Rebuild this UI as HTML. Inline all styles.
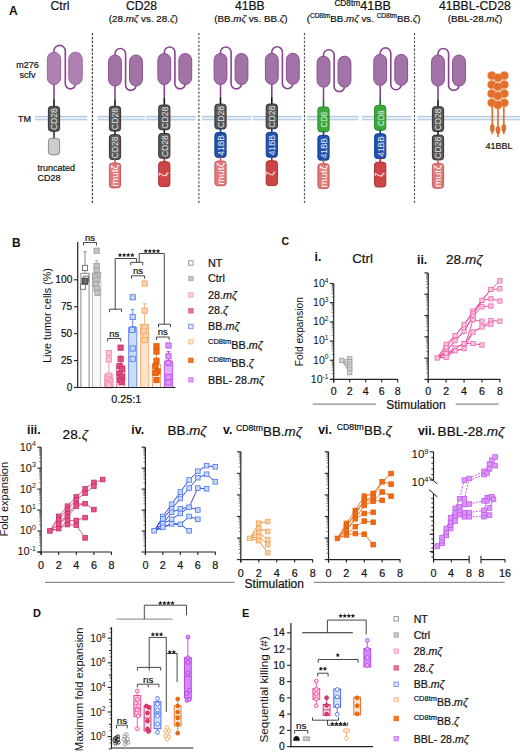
<!DOCTYPE html>
<html><head><meta charset="utf-8"><style>
html,body{margin:0;padding:0;background:#fff;width:520px;height:753px;overflow:hidden}
svg{display:block}
text{font-family:"Liberation Sans",sans-serif}
</style></head><body>
<svg width="520" height="753" viewBox="0 0 520 753" font-family="Liberation Sans, sans-serif">
<rect width="520" height="753" fill="#fff"/>
<rect x="35.00" y="116.40" width="52.20" height="3.40" rx="0" fill="#e2eefa" stroke="none" stroke-width="1" />
<line x1="35.00" y1="116.40" x2="87.20" y2="116.40" stroke="#adc1d6" stroke-width="1.0" />
<line x1="35.00" y1="119.80" x2="87.20" y2="119.80" stroke="#adc1d6" stroke-width="1.0" />
<rect x="97.30" y="116.40" width="47.60" height="3.40" rx="0" fill="#e2eefa" stroke="none" stroke-width="1" />
<line x1="97.30" y1="116.40" x2="144.90" y2="116.40" stroke="#adc1d6" stroke-width="1.0" />
<line x1="97.30" y1="119.80" x2="144.90" y2="119.80" stroke="#adc1d6" stroke-width="1.0" />
<rect x="146.10" y="116.40" width="49.70" height="3.40" rx="0" fill="#e2eefa" stroke="none" stroke-width="1" />
<line x1="146.10" y1="116.40" x2="195.80" y2="116.40" stroke="#adc1d6" stroke-width="1.0" />
<line x1="146.10" y1="119.80" x2="195.80" y2="119.80" stroke="#adc1d6" stroke-width="1.0" />
<rect x="201.90" y="116.40" width="49.00" height="3.40" rx="0" fill="#e2eefa" stroke="none" stroke-width="1" />
<line x1="201.90" y1="116.40" x2="250.90" y2="116.40" stroke="#adc1d6" stroke-width="1.0" />
<line x1="201.90" y1="119.80" x2="250.90" y2="119.80" stroke="#adc1d6" stroke-width="1.0" />
<rect x="252.60" y="116.40" width="49.00" height="3.40" rx="0" fill="#e2eefa" stroke="none" stroke-width="1" />
<line x1="252.60" y1="116.40" x2="301.60" y2="116.40" stroke="#adc1d6" stroke-width="1.0" />
<line x1="252.60" y1="119.80" x2="301.60" y2="119.80" stroke="#adc1d6" stroke-width="1.0" />
<rect x="306.80" y="116.40" width="51.50" height="3.40" rx="0" fill="#e2eefa" stroke="none" stroke-width="1" />
<line x1="306.80" y1="116.40" x2="358.30" y2="116.40" stroke="#adc1d6" stroke-width="1.0" />
<line x1="306.80" y1="119.80" x2="358.30" y2="119.80" stroke="#adc1d6" stroke-width="1.0" />
<rect x="362.00" y="116.40" width="49.40" height="3.40" rx="0" fill="#e2eefa" stroke="none" stroke-width="1" />
<line x1="362.00" y1="116.40" x2="411.40" y2="116.40" stroke="#adc1d6" stroke-width="1.0" />
<line x1="362.00" y1="119.80" x2="411.40" y2="119.80" stroke="#adc1d6" stroke-width="1.0" />
<rect x="417.40" y="116.40" width="102.60" height="3.40" rx="0" fill="#e2eefa" stroke="none" stroke-width="1" />
<line x1="417.40" y1="116.40" x2="520.00" y2="116.40" stroke="#adc1d6" stroke-width="1.0" />
<line x1="417.40" y1="119.80" x2="520.00" y2="119.80" stroke="#adc1d6" stroke-width="1.0" />
<line x1="92.40" y1="33.00" x2="92.40" y2="203.00" stroke="#3a3a3a" stroke-width="1.2" stroke-dasharray="2.3 1.6"/>
<line x1="198.90" y1="33.00" x2="198.90" y2="203.00" stroke="#555" stroke-width="1.2" stroke-dasharray="2.3 1.6"/>
<line x1="304.50" y1="33.00" x2="304.50" y2="203.00" stroke="#555" stroke-width="1.2" stroke-dasharray="2.3 1.6"/>
<line x1="414.50" y1="33.00" x2="414.50" y2="203.00" stroke="#555" stroke-width="1.2" stroke-dasharray="2.3 1.6"/>
<text x="9.00" y="14.60" font-size="12" text-anchor="start" font-weight="bold" fill="#111"  >A</text>
<text x="60.00" y="9.80" font-size="12.2" text-anchor="middle" font-weight="normal" fill="#111" stroke="#111" stroke-width="0.2" >Ctrl</text>
<text x="141.50" y="9.80" font-size="12.2" text-anchor="middle" font-weight="normal" fill="#111" stroke="#111" stroke-width="0.2" >CD28</text>
<text x="143.30" y="21.60" font-size="9.8" text-anchor="middle" font-weight="normal" fill="#111" stroke="#111" stroke-width="0.2" >(28.<tspan font-style="italic">mζ</tspan> vs. 28.<tspan font-style="italic">ζ</tspan>)</text>
<text x="249.80" y="9.80" font-size="12.2" text-anchor="middle" font-weight="normal" fill="#111" stroke="#111" stroke-width="0.2" >41BB</text>
<text x="250.90" y="21.60" font-size="9.8" text-anchor="middle" font-weight="normal" fill="#111" stroke="#111" stroke-width="0.2" >(BB.<tspan font-style="italic">mζ</tspan> vs. BB.<tspan font-style="italic">ζ</tspan>)</text>
<text x="362.70" y="9.80" font-size="12.2" text-anchor="middle" font-weight="normal" fill="#111" stroke="#111" stroke-width="0.2" ><tspan font-size="8.3" dy="-4.3">CD8tm</tspan><tspan dy="4.3" font-size="12.6">41BB</tspan></text>
<text x="363.60" y="21.60" font-size="9.8" text-anchor="middle" font-weight="normal" fill="#111" stroke="#111" stroke-width="0.2" >(<tspan font-size="6.5" dy="-3.5">CD8tm</tspan><tspan dy="3.5">BB.<tspan font-style="italic">mζ</tspan> vs. </tspan><tspan font-size="6.5" dy="-3.5">CD8tm</tspan><tspan dy="3.5">BB.<tspan font-style="italic">ζ</tspan>)</tspan></text>
<text x="474.80" y="9.80" font-size="12.2" text-anchor="middle" font-weight="normal" fill="#111" stroke="#111" stroke-width="0.2" >41BBL-CD28</text>
<text x="475.00" y="21.60" font-size="9.8" text-anchor="middle" font-weight="normal" fill="#111" stroke="#111" stroke-width="0.2" >(BBL-28.<tspan font-style="italic">mζ</tspan>)</text>
<text x="27.50" y="67.60" font-size="9" text-anchor="middle" font-weight="normal" fill="#111" stroke="#111" stroke-width="0.2" >m276</text>
<text x="27.50" y="77.60" font-size="9" text-anchor="middle" font-weight="normal" fill="#111" stroke="#111" stroke-width="0.2" >scfv</text>
<text x="18.00" y="122.00" font-size="9" text-anchor="start" font-weight="normal" fill="#111" stroke="#111" stroke-width="0.2" >TM</text>
<text x="37.50" y="171.40" font-size="9" text-anchor="start" font-weight="normal" fill="#111" stroke="#111" stroke-width="0.2" >truncated</text>
<text x="37.50" y="180.60" font-size="9" text-anchor="start" font-weight="normal" fill="#111" stroke="#111" stroke-width="0.2" >CD28</text>
<text x="485.50" y="148.60" font-size="9" text-anchor="start" font-weight="normal" fill="#111" stroke="#111" stroke-width="0.2" >41BBL</text>
<path d="M54.00,56.20 L54.00,51.00 A5.65,5.65 0 0 1 65.30,51.00 L65.30,83.80 A5.10,5.10 0 0 0 75.50,83.80 L75.50,80.60" fill="none" stroke="#8a4392" stroke-width="1.6" />
<rect x="47.30" y="52.20" width="13.40" height="32.40" rx="6.7" fill="#ae81b2" stroke="#9a64a0" stroke-width="1" />
<rect x="68.80" y="52.20" width="13.40" height="32.40" rx="6.7" fill="#ae81b2" stroke="#9a64a0" stroke-width="1" />
<line x1="54.00" y1="84.60" x2="54.00" y2="99.90" stroke="#8a4392" stroke-width="1.6" />
<line x1="54.00" y1="99.60" x2="54.00" y2="106.40" stroke="#111" stroke-width="1.6" />
<rect x="48.40" y="106.40" width="11.20" height="24.80" rx="2.8" fill="#585858" stroke="#333333" stroke-width="1" />
<text x="-11.00" y="0" font-size="9.4" fill="#e8e8e8" textLength="22.0" lengthAdjust="spacingAndGlyphs" transform="translate(57.35,119.10) rotate(-90)">CD28</text>
<line x1="54.00" y1="130.70" x2="54.00" y2="138.80" stroke="#333" stroke-width="1.6" />
<rect x="48.40" y="138.40" width="11.20" height="16.30" rx="2.8" fill="#cccccc" stroke="#8a8a8a" stroke-width="1" />
<path d="M52.70,154.60 L55.30,154.60 L54.00,156.20 Z" fill="#aaa" stroke="none" stroke-width="1" />
<path d="M115.00,59.00 L115.00,53.80 A5.30,5.30 0 0 1 125.60,53.80 L125.60,85.20 A5.20,5.20 0 0 0 136.00,85.20 L136.00,82.00" fill="none" stroke="#8a4392" stroke-width="1.6" />
<rect x="108.60" y="55.00" width="12.80" height="31.00" rx="6.4" fill="#a273a6" stroke="#8a4f90" stroke-width="1" />
<rect x="129.60" y="55.00" width="12.80" height="31.00" rx="6.4" fill="#a273a6" stroke="#8a4f90" stroke-width="1" />
<line x1="115.00" y1="86.00" x2="115.00" y2="99.80" stroke="#8a4392" stroke-width="1.6" />
<line x1="115.00" y1="99.50" x2="115.00" y2="106.30" stroke="#111" stroke-width="1.6" />
<rect x="109.40" y="106.30" width="11.20" height="24.80" rx="2.8" fill="#585858" stroke="#333333" stroke-width="1" />
<text x="-11.00" y="0" font-size="9.4" fill="#e8e8e8" textLength="22.0" lengthAdjust="spacingAndGlyphs" transform="translate(118.35,119.00) rotate(-90)">CD28</text>
<line x1="115.00" y1="130.60" x2="115.00" y2="135.20" stroke="#222" stroke-width="1.6" />
<rect x="109.40" y="134.70" width="11.20" height="24.80" rx="2.8" fill="#585858" stroke="#333333" stroke-width="1" />
<text x="-11.00" y="0" font-size="9.4" fill="#e8e8e8" textLength="22.0" lengthAdjust="spacingAndGlyphs" transform="translate(118.35,147.40) rotate(-90)">CD28</text>
<line x1="115.00" y1="159.00" x2="115.00" y2="163.60" stroke="#c45b5b" stroke-width="1.6" />
<rect x="109.40" y="163.10" width="11.20" height="24.80" rx="2.8" fill="#e07a7a" stroke="#c45b5b" stroke-width="1" />
<text x="-11.00" y="0" font-size="9.4" fill="#fff" textLength="22.0" lengthAdjust="spacingAndGlyphs" transform="translate(118.35,175.80) rotate(-90)">mutζ</text>
<path d="M164.30,57.50 L164.30,52.30 A5.30,5.30 0 0 1 174.90,52.30 L174.90,83.70 A5.20,5.20 0 0 0 185.30,83.70 L185.30,80.50" fill="none" stroke="#8a4392" stroke-width="1.6" />
<rect x="157.90" y="53.50" width="12.80" height="31.00" rx="6.4" fill="#a273a6" stroke="#8a4f90" stroke-width="1" />
<rect x="178.90" y="53.50" width="12.80" height="31.00" rx="6.4" fill="#a273a6" stroke="#8a4f90" stroke-width="1" />
<line x1="164.30" y1="84.50" x2="164.30" y2="98.50" stroke="#8a4392" stroke-width="1.6" />
<line x1="164.30" y1="98.20" x2="164.30" y2="105.00" stroke="#111" stroke-width="1.6" />
<rect x="158.70" y="105.00" width="11.20" height="24.80" rx="2.8" fill="#585858" stroke="#333333" stroke-width="1" />
<text x="-11.00" y="0" font-size="9.4" fill="#e8e8e8" textLength="22.0" lengthAdjust="spacingAndGlyphs" transform="translate(167.65,117.70) rotate(-90)">CD28</text>
<line x1="164.30" y1="129.30" x2="164.30" y2="133.90" stroke="#222" stroke-width="1.6" />
<rect x="158.70" y="133.40" width="11.20" height="24.80" rx="2.8" fill="#585858" stroke="#333333" stroke-width="1" />
<text x="-11.00" y="0" font-size="9.4" fill="#e8e8e8" textLength="22.0" lengthAdjust="spacingAndGlyphs" transform="translate(167.65,146.10) rotate(-90)">CD28</text>
<line x1="164.30" y1="157.70" x2="164.30" y2="162.30" stroke="#a92e2e" stroke-width="1.6" />
<rect x="158.70" y="161.80" width="11.20" height="24.80" rx="2.8" fill="#cf4444" stroke="#a92e2e" stroke-width="1" />
<text x="0" y="0" font-size="10" text-anchor="middle" fill="#fff" transform="translate(166.90,174.50) rotate(-90)">ζ</text>
<path d="M220.50,57.50 L220.50,52.30 A5.30,5.30 0 0 1 231.10,52.30 L231.10,83.70 A5.20,5.20 0 0 0 241.50,83.70 L241.50,80.50" fill="none" stroke="#8a4392" stroke-width="1.6" />
<rect x="214.10" y="53.50" width="12.80" height="31.00" rx="6.4" fill="#a273a6" stroke="#8a4f90" stroke-width="1" />
<rect x="235.10" y="53.50" width="12.80" height="31.00" rx="6.4" fill="#a273a6" stroke="#8a4f90" stroke-width="1" />
<line x1="220.50" y1="84.50" x2="220.50" y2="97.70" stroke="#8a4392" stroke-width="1.6" />
<line x1="220.50" y1="97.40" x2="220.50" y2="104.20" stroke="#111" stroke-width="1.6" />
<rect x="214.90" y="104.20" width="11.20" height="24.80" rx="2.8" fill="#585858" stroke="#333333" stroke-width="1" />
<text x="-11.00" y="0" font-size="9.4" fill="#e8e8e8" textLength="22.0" lengthAdjust="spacingAndGlyphs" transform="translate(223.85,116.90) rotate(-90)">CD28</text>
<line x1="220.50" y1="128.50" x2="220.50" y2="133.10" stroke="#123d8e" stroke-width="1.6" />
<rect x="214.90" y="132.60" width="11.20" height="24.80" rx="2.8" fill="#2152ad" stroke="#123d8e" stroke-width="1" />
<text x="-10.25" y="0" font-size="9.4" fill="#e8e8e8" textLength="20.5" lengthAdjust="spacingAndGlyphs" transform="translate(223.85,145.30) rotate(-90)">41BB</text>
<line x1="220.50" y1="156.90" x2="220.50" y2="161.50" stroke="#c45b5b" stroke-width="1.6" />
<rect x="214.90" y="161.00" width="11.20" height="24.80" rx="2.8" fill="#e07a7a" stroke="#c45b5b" stroke-width="1" />
<text x="-11.00" y="0" font-size="9.4" fill="#fff" textLength="22.0" lengthAdjust="spacingAndGlyphs" transform="translate(223.85,173.70) rotate(-90)">mutζ</text>
<path d="M271.80,57.30 L271.80,52.10 A5.30,5.30 0 0 1 282.40,52.10 L282.40,83.50 A5.20,5.20 0 0 0 292.80,83.50 L292.80,80.30" fill="none" stroke="#8a4392" stroke-width="1.6" />
<rect x="265.40" y="53.30" width="12.80" height="31.00" rx="6.4" fill="#a273a6" stroke="#8a4f90" stroke-width="1" />
<rect x="286.40" y="53.30" width="12.80" height="31.00" rx="6.4" fill="#a273a6" stroke="#8a4f90" stroke-width="1" />
<line x1="271.80" y1="84.30" x2="271.80" y2="97.50" stroke="#8a4392" stroke-width="1.6" />
<line x1="271.80" y1="97.20" x2="271.80" y2="104.00" stroke="#111" stroke-width="1.6" />
<rect x="266.20" y="104.00" width="11.20" height="24.80" rx="2.8" fill="#585858" stroke="#333333" stroke-width="1" />
<text x="-11.00" y="0" font-size="9.4" fill="#e8e8e8" textLength="22.0" lengthAdjust="spacingAndGlyphs" transform="translate(275.15,116.70) rotate(-90)">CD28</text>
<line x1="271.80" y1="128.30" x2="271.80" y2="132.90" stroke="#123d8e" stroke-width="1.6" />
<rect x="266.20" y="132.40" width="11.20" height="24.80" rx="2.8" fill="#2152ad" stroke="#123d8e" stroke-width="1" />
<text x="-10.25" y="0" font-size="9.4" fill="#e8e8e8" textLength="20.5" lengthAdjust="spacingAndGlyphs" transform="translate(275.15,145.10) rotate(-90)">41BB</text>
<line x1="271.80" y1="156.70" x2="271.80" y2="161.30" stroke="#a92e2e" stroke-width="1.6" />
<rect x="266.20" y="160.80" width="11.20" height="24.80" rx="2.8" fill="#cf4444" stroke="#a92e2e" stroke-width="1" />
<text x="0" y="0" font-size="10" text-anchor="middle" fill="#fff" transform="translate(274.40,173.50) rotate(-90)">ζ</text>
<path d="M323.50,60.20 L323.50,55.00 A5.30,5.30 0 0 1 334.10,55.00 L334.10,86.40 A5.20,5.20 0 0 0 344.50,86.40 L344.50,83.20" fill="none" stroke="#8a4392" stroke-width="1.6" />
<rect x="317.10" y="56.20" width="12.80" height="31.00" rx="6.4" fill="#a273a6" stroke="#8a4f90" stroke-width="1" />
<rect x="338.10" y="56.20" width="12.80" height="31.00" rx="6.4" fill="#a273a6" stroke="#8a4f90" stroke-width="1" />
<line x1="323.50" y1="87.20" x2="323.50" y2="100.50" stroke="#8a4392" stroke-width="1.6" />
<line x1="323.50" y1="100.20" x2="323.50" y2="107.00" stroke="#1d6b1d" stroke-width="1.6" />
<rect x="317.90" y="107.00" width="11.20" height="24.80" rx="2.8" fill="#3cab3c" stroke="#22872a" stroke-width="1" />
<text x="-7.80" y="0" font-size="9.4" fill="#e8e8e8" textLength="15.6" lengthAdjust="spacingAndGlyphs" transform="translate(326.85,119.70) rotate(-90)">CD8</text>
<line x1="323.50" y1="131.30" x2="323.50" y2="135.90" stroke="#123d8e" stroke-width="1.6" />
<rect x="317.90" y="135.40" width="11.20" height="24.80" rx="2.8" fill="#2152ad" stroke="#123d8e" stroke-width="1" />
<text x="-10.25" y="0" font-size="9.4" fill="#e8e8e8" textLength="20.5" lengthAdjust="spacingAndGlyphs" transform="translate(326.85,148.10) rotate(-90)">41BB</text>
<line x1="323.50" y1="159.70" x2="323.50" y2="164.30" stroke="#c45b5b" stroke-width="1.6" />
<rect x="317.90" y="163.80" width="11.20" height="24.80" rx="2.8" fill="#e07a7a" stroke="#c45b5b" stroke-width="1" />
<text x="-11.00" y="0" font-size="9.4" fill="#fff" textLength="22.0" lengthAdjust="spacingAndGlyphs" transform="translate(326.85,176.50) rotate(-90)">mutζ</text>
<path d="M380.20,58.40 L380.20,53.20 A5.30,5.30 0 0 1 390.80,53.20 L390.80,84.60 A5.20,5.20 0 0 0 401.20,84.60 L401.20,81.40" fill="none" stroke="#8a4392" stroke-width="1.6" />
<rect x="373.80" y="54.40" width="12.80" height="31.00" rx="6.4" fill="#a273a6" stroke="#8a4f90" stroke-width="1" />
<rect x="394.80" y="54.40" width="12.80" height="31.00" rx="6.4" fill="#a273a6" stroke="#8a4f90" stroke-width="1" />
<line x1="380.20" y1="85.40" x2="380.20" y2="98.90" stroke="#8a4392" stroke-width="1.6" />
<line x1="380.20" y1="98.60" x2="380.20" y2="105.40" stroke="#1d6b1d" stroke-width="1.6" />
<rect x="374.60" y="105.40" width="11.20" height="24.80" rx="2.8" fill="#3cab3c" stroke="#22872a" stroke-width="1" />
<text x="-7.80" y="0" font-size="9.4" fill="#e8e8e8" textLength="15.6" lengthAdjust="spacingAndGlyphs" transform="translate(383.55,118.10) rotate(-90)">CD8</text>
<line x1="380.20" y1="129.70" x2="380.20" y2="134.30" stroke="#123d8e" stroke-width="1.6" />
<rect x="374.60" y="133.80" width="11.20" height="24.80" rx="2.8" fill="#2152ad" stroke="#123d8e" stroke-width="1" />
<text x="-10.25" y="0" font-size="9.4" fill="#e8e8e8" textLength="20.5" lengthAdjust="spacingAndGlyphs" transform="translate(383.55,146.50) rotate(-90)">41BB</text>
<line x1="380.20" y1="158.10" x2="380.20" y2="162.70" stroke="#a92e2e" stroke-width="1.6" />
<rect x="374.60" y="162.20" width="11.20" height="24.80" rx="2.8" fill="#cf4444" stroke="#a92e2e" stroke-width="1" />
<text x="0" y="0" font-size="10" text-anchor="middle" fill="#fff" transform="translate(382.80,174.90) rotate(-90)">ζ</text>
<path d="M438.00,59.00 L438.00,53.80 A5.30,5.30 0 0 1 448.60,53.80 L448.60,85.20 A5.20,5.20 0 0 0 459.00,85.20 L459.00,82.00" fill="none" stroke="#8a4392" stroke-width="1.6" />
<rect x="431.60" y="55.00" width="12.80" height="31.00" rx="6.4" fill="#a273a6" stroke="#8a4f90" stroke-width="1" />
<rect x="452.60" y="55.00" width="12.80" height="31.00" rx="6.4" fill="#a273a6" stroke="#8a4f90" stroke-width="1" />
<line x1="438.00" y1="86.00" x2="438.00" y2="100.20" stroke="#8a4392" stroke-width="1.6" />
<line x1="438.00" y1="99.90" x2="438.00" y2="106.70" stroke="#111" stroke-width="1.6" />
<rect x="432.40" y="106.70" width="11.20" height="24.80" rx="2.8" fill="#585858" stroke="#333333" stroke-width="1" />
<text x="-11.00" y="0" font-size="9.4" fill="#e8e8e8" textLength="22.0" lengthAdjust="spacingAndGlyphs" transform="translate(441.35,119.40) rotate(-90)">CD28</text>
<line x1="438.00" y1="131.00" x2="438.00" y2="135.60" stroke="#222" stroke-width="1.6" />
<rect x="432.40" y="135.10" width="11.20" height="24.80" rx="2.8" fill="#585858" stroke="#333333" stroke-width="1" />
<text x="-11.00" y="0" font-size="9.4" fill="#e8e8e8" textLength="22.0" lengthAdjust="spacingAndGlyphs" transform="translate(441.35,147.80) rotate(-90)">CD28</text>
<line x1="438.00" y1="159.40" x2="438.00" y2="164.00" stroke="#c45b5b" stroke-width="1.6" />
<rect x="432.40" y="163.50" width="11.20" height="24.80" rx="2.8" fill="#e07a7a" stroke="#c45b5b" stroke-width="1" />
<text x="-11.00" y="0" font-size="9.4" fill="#fff" textLength="22.0" lengthAdjust="spacingAndGlyphs" transform="translate(441.35,176.20) rotate(-90)">mutζ</text>
<line x1="492.30" y1="103.00" x2="492.30" y2="134.10" stroke="#e2702c" stroke-width="1.7" />
<rect x="490.40" y="124.60" width="3.80" height="7.00" rx="1.9" fill="#e2702c" stroke="#c85a1a" stroke-width="0.6" />
<line x1="498.00" y1="103.00" x2="498.00" y2="137.00" stroke="#e2702c" stroke-width="1.7" />
<rect x="496.10" y="126.50" width="3.80" height="7.00" rx="1.9" fill="#e2702c" stroke="#c85a1a" stroke-width="0.6" />
<line x1="503.80" y1="103.00" x2="503.80" y2="134.10" stroke="#e2702c" stroke-width="1.7" />
<rect x="501.90" y="124.60" width="3.80" height="7.00" rx="1.9" fill="#e2702c" stroke="#c85a1a" stroke-width="0.6" />
<circle cx="491.70" cy="75.60" r="4.1" fill="#e2702c" stroke="#f09a66" stroke-width="0.5" />
<circle cx="491.70" cy="84.70" r="4.1" fill="#e2702c" stroke="#f09a66" stroke-width="0.5" />
<circle cx="491.70" cy="93.70" r="4.1" fill="#e2702c" stroke="#f09a66" stroke-width="0.5" />
<circle cx="491.70" cy="102.80" r="4.1" fill="#e2702c" stroke="#f09a66" stroke-width="0.5" />
<circle cx="504.30" cy="75.60" r="4.1" fill="#e2702c" stroke="#f09a66" stroke-width="0.5" />
<circle cx="504.30" cy="84.70" r="4.1" fill="#e2702c" stroke="#f09a66" stroke-width="0.5" />
<circle cx="504.30" cy="93.70" r="4.1" fill="#e2702c" stroke="#f09a66" stroke-width="0.5" />
<circle cx="504.30" cy="102.80" r="4.1" fill="#e2702c" stroke="#f09a66" stroke-width="0.5" />
<circle cx="497.90" cy="77.80" r="4.1" fill="#e2702c" stroke="#f09a66" stroke-width="0.5" />
<circle cx="497.90" cy="86.80" r="4.1" fill="#e2702c" stroke="#f09a66" stroke-width="0.5" />
<circle cx="497.90" cy="95.90" r="4.1" fill="#e2702c" stroke="#f09a66" stroke-width="0.5" />
<circle cx="497.90" cy="104.90" r="4.1" fill="#e2702c" stroke="#f09a66" stroke-width="0.5" />
<text x="12.00" y="246.50" font-size="12" text-anchor="start" font-weight="bold" fill="#111"  >B</text>
<rect x="80.90" y="273.34" width="8.20" height="114.16" rx="0" fill="#ffffff" stroke="#8a8a8a" stroke-width="1" />
<line x1="85.00" y1="273.34" x2="85.00" y2="251.80" stroke="#8a8a8a" stroke-width="1" />
<line x1="83.20" y1="251.80" x2="86.80" y2="251.80" stroke="#8a8a8a" stroke-width="1" />
<rect x="82.40" y="265.35" width="5.20" height="5.20" rx="0" fill="#ffffff" stroke="#6a6a6a" stroke-width="0.9" />
<rect x="80.40" y="284.09" width="5.20" height="5.20" rx="0" fill="#ffffff" stroke="#6a6a6a" stroke-width="0.9" />
<rect x="83.40" y="276.12" width="5.20" height="5.20" rx="0" fill="#ffffff" stroke="#6a6a6a" stroke-width="0.9" />
<rect x="81.90" y="278.28" width="5.20" height="5.20" rx="0" fill="#ffffff" stroke="#6a6a6a" stroke-width="0.9" />
<rect x="82.40" y="279.35" width="5.20" height="5.20" rx="0" fill="#ffffff" stroke="#6a6a6a" stroke-width="0.9" />
<rect x="92.50" y="273.34" width="8.20" height="114.16" rx="0" fill="#f7f7f7" stroke="#bdbdbd" stroke-width="1" />
<line x1="96.60" y1="273.34" x2="96.60" y2="260.41" stroke="#bdbdbd" stroke-width="1" />
<line x1="94.80" y1="260.41" x2="98.40" y2="260.41" stroke="#bdbdbd" stroke-width="1" />
<rect x="94.00" y="248.12" width="5.20" height="5.20" rx="0" fill="#c6c6c6" stroke="#9a9a9a" stroke-width="0.9" />
<rect x="94.00" y="263.20" width="5.20" height="5.20" rx="0" fill="#c6c6c6" stroke="#9a9a9a" stroke-width="0.9" />
<rect x="94.00" y="267.83" width="5.20" height="5.20" rx="0" fill="#c6c6c6" stroke="#9a9a9a" stroke-width="0.9" />
<rect x="95.00" y="272.35" width="5.20" height="5.20" rx="0" fill="#c6c6c6" stroke="#9a9a9a" stroke-width="0.9" />
<rect x="92.50" y="273.97" width="5.20" height="5.20" rx="0" fill="#c6c6c6" stroke="#9a9a9a" stroke-width="0.9" />
<rect x="94.00" y="277.74" width="5.20" height="5.20" rx="0" fill="#c6c6c6" stroke="#9a9a9a" stroke-width="0.9" />
<rect x="93.00" y="281.51" width="5.20" height="5.20" rx="0" fill="#c6c6c6" stroke="#9a9a9a" stroke-width="0.9" />
<rect x="94.00" y="285.82" width="5.20" height="5.20" rx="0" fill="#c6c6c6" stroke="#9a9a9a" stroke-width="0.9" />
<rect x="95.00" y="290.12" width="5.20" height="5.20" rx="0" fill="#c6c6c6" stroke="#9a9a9a" stroke-width="0.9" />
<rect x="104.70" y="374.25" width="8.20" height="13.25" rx="0" fill="#fde4ec" stroke="#f49ab9" stroke-width="1" />
<line x1="108.80" y1="374.25" x2="108.80" y2="359.50" stroke="#f49ab9" stroke-width="1" />
<line x1="107.00" y1="359.50" x2="110.60" y2="359.50" stroke="#f49ab9" stroke-width="1" />
<rect x="106.20" y="350.44" width="5.20" height="5.20" rx="0" fill="#fac6d8" stroke="#f48ab0" stroke-width="0.9" />
<rect x="106.20" y="356.90" width="5.20" height="5.20" rx="0" fill="#fac6d8" stroke="#f48ab0" stroke-width="0.9" />
<rect x="106.20" y="373.05" width="5.20" height="5.20" rx="0" fill="#fac6d8" stroke="#f48ab0" stroke-width="0.9" />
<rect x="105.20" y="376.28" width="5.20" height="5.20" rx="0" fill="#fac6d8" stroke="#f48ab0" stroke-width="0.9" />
<rect x="107.20" y="378.44" width="5.20" height="5.20" rx="0" fill="#fac6d8" stroke="#f48ab0" stroke-width="0.9" />
<rect x="104.70" y="380.59" width="5.20" height="5.20" rx="0" fill="#fac6d8" stroke="#f48ab0" stroke-width="0.9" />
<rect x="107.70" y="381.67" width="5.20" height="5.20" rx="0" fill="#fac6d8" stroke="#f48ab0" stroke-width="0.9" />
<rect x="106.20" y="382.75" width="5.20" height="5.20" rx="0" fill="#fac6d8" stroke="#f48ab0" stroke-width="0.9" />
<rect x="116.50" y="365.53" width="8.20" height="21.97" rx="0" fill="#fbe3ea" stroke="#ec86a9" stroke-width="1" />
<line x1="120.60" y1="365.53" x2="120.60" y2="355.19" stroke="#ec86a9" stroke-width="1" />
<line x1="118.80" y1="355.19" x2="122.40" y2="355.19" stroke="#ec86a9" stroke-width="1" />
<rect x="118.00" y="345.05" width="5.20" height="5.20" rx="0" fill="#e04a80" stroke="#c8326a" stroke-width="0.9" />
<rect x="118.00" y="356.47" width="5.20" height="5.20" rx="0" fill="#e04a80" stroke="#c8326a" stroke-width="0.9" />
<rect x="117.00" y="363.36" width="5.20" height="5.20" rx="0" fill="#e04a80" stroke="#c8326a" stroke-width="0.9" />
<rect x="119.50" y="366.59" width="5.20" height="5.20" rx="0" fill="#e04a80" stroke="#c8326a" stroke-width="0.9" />
<rect x="117.00" y="370.90" width="5.20" height="5.20" rx="0" fill="#e04a80" stroke="#c8326a" stroke-width="0.9" />
<rect x="119.50" y="374.13" width="5.20" height="5.20" rx="0" fill="#e04a80" stroke="#c8326a" stroke-width="0.9" />
<rect x="117.50" y="377.36" width="5.20" height="5.20" rx="0" fill="#e04a80" stroke="#c8326a" stroke-width="0.9" />
<rect x="119.00" y="379.51" width="5.20" height="5.20" rx="0" fill="#e04a80" stroke="#c8326a" stroke-width="0.9" />
<rect x="128.60" y="327.73" width="8.20" height="59.77" rx="0" fill="#cadcf8" stroke="#6a8ef0" stroke-width="1" />
<line x1="132.70" y1="327.73" x2="132.70" y2="309.31" stroke="#6a8ef0" stroke-width="1" />
<line x1="130.90" y1="309.31" x2="134.50" y2="309.31" stroke="#6a8ef0" stroke-width="1" />
<rect x="130.10" y="294.65" width="5.20" height="5.20" rx="0" fill="#c5d7fb" stroke="#5b80f0" stroke-width="0.9" />
<rect x="130.10" y="314.36" width="5.20" height="5.20" rx="0" fill="#c5d7fb" stroke="#5b80f0" stroke-width="0.9" />
<rect x="130.10" y="326.74" width="5.20" height="5.20" rx="0" fill="#c5d7fb" stroke="#5b80f0" stroke-width="0.9" />
<rect x="129.60" y="327.28" width="5.20" height="5.20" rx="0" fill="#c5d7fb" stroke="#5b80f0" stroke-width="0.9" />
<rect x="130.10" y="345.91" width="5.20" height="5.20" rx="0" fill="#c5d7fb" stroke="#5b80f0" stroke-width="0.9" />
<rect x="130.10" y="356.25" width="5.20" height="5.20" rx="0" fill="#c5d7fb" stroke="#5b80f0" stroke-width="0.9" />
<rect x="140.50" y="324.60" width="8.20" height="62.90" rx="0" fill="#fee4cc" stroke="#f9b27c" stroke-width="1" />
<line x1="144.60" y1="324.60" x2="144.60" y2="303.82" stroke="#f9b27c" stroke-width="1" />
<line x1="142.80" y1="303.82" x2="146.40" y2="303.82" stroke="#f9b27c" stroke-width="1" />
<rect x="142.00" y="280.86" width="5.20" height="5.20" rx="0" fill="#fcd6b2" stroke="#f5a262" stroke-width="0.9" />
<rect x="142.00" y="308.22" width="5.20" height="5.20" rx="0" fill="#fcd6b2" stroke="#f5a262" stroke-width="0.9" />
<rect x="142.00" y="324.59" width="5.20" height="5.20" rx="0" fill="#fcd6b2" stroke="#f5a262" stroke-width="0.9" />
<rect x="141.00" y="328.90" width="5.20" height="5.20" rx="0" fill="#fcd6b2" stroke="#f5a262" stroke-width="0.9" />
<rect x="143.00" y="333.20" width="5.20" height="5.20" rx="0" fill="#fcd6b2" stroke="#f5a262" stroke-width="0.9" />
<rect x="142.00" y="337.51" width="5.20" height="5.20" rx="0" fill="#fcd6b2" stroke="#f5a262" stroke-width="0.9" />
<rect x="152.40" y="364.56" width="8.20" height="22.94" rx="0" fill="#fdf1e8" stroke="#e6a679" stroke-width="1" />
<line x1="156.50" y1="364.56" x2="156.50" y2="351.96" stroke="#e6a679" stroke-width="1" />
<line x1="154.70" y1="351.96" x2="158.30" y2="351.96" stroke="#e6a679" stroke-width="1" />
<rect x="153.90" y="343.65" width="5.20" height="5.20" rx="0" fill="#f26a12" stroke="#e05a08" stroke-width="0.9" />
<rect x="153.90" y="348.93" width="5.20" height="5.20" rx="0" fill="#f26a12" stroke="#e05a08" stroke-width="0.9" />
<rect x="153.90" y="358.19" width="5.20" height="5.20" rx="0" fill="#f26a12" stroke="#e05a08" stroke-width="0.9" />
<rect x="152.90" y="363.58" width="5.20" height="5.20" rx="0" fill="#f26a12" stroke="#e05a08" stroke-width="0.9" />
<rect x="154.90" y="368.85" width="5.20" height="5.20" rx="0" fill="#f26a12" stroke="#e05a08" stroke-width="0.9" />
<rect x="152.90" y="370.36" width="5.20" height="5.20" rx="0" fill="#f26a12" stroke="#e05a08" stroke-width="0.9" />
<rect x="153.90" y="377.36" width="5.20" height="5.20" rx="0" fill="#f26a12" stroke="#e05a08" stroke-width="0.9" />
<rect x="164.40" y="361.54" width="8.20" height="25.96" rx="0" fill="#e2adf8" stroke="#c35cf0" stroke-width="1" />
<line x1="168.50" y1="361.54" x2="168.50" y2="351.53" stroke="#c35cf0" stroke-width="1" />
<line x1="166.70" y1="351.53" x2="170.30" y2="351.53" stroke="#c35cf0" stroke-width="1" />
<rect x="165.90" y="342.90" width="5.20" height="5.20" rx="0" fill="#dc98f9" stroke="#bc52ee" stroke-width="0.9" />
<rect x="165.90" y="353.67" width="5.20" height="5.20" rx="0" fill="#dc98f9" stroke="#bc52ee" stroke-width="0.9" />
<rect x="165.90" y="360.45" width="5.20" height="5.20" rx="0" fill="#dc98f9" stroke="#bc52ee" stroke-width="0.9" />
<rect x="165.90" y="374.35" width="5.20" height="5.20" rx="0" fill="#dc98f9" stroke="#bc52ee" stroke-width="0.9" />
<rect x="165.90" y="379.73" width="5.20" height="5.20" rx="0" fill="#dc98f9" stroke="#bc52ee" stroke-width="0.9" />
<rect x="82.60" y="278.28" width="5.20" height="5.20" rx="0" fill="#6a6a6a" stroke="#444" stroke-width="0.9" />
<line x1="77.70" y1="241.90" x2="77.70" y2="388.10" stroke="#222" stroke-width="1.2" />
<line x1="77.10" y1="387.50" x2="175.40" y2="387.50" stroke="#222" stroke-width="1.2" />
<line x1="74.00" y1="387.50" x2="77.70" y2="387.50" stroke="#222" stroke-width="1.1" />
<text x="72.30" y="391.10" font-size="10.2" text-anchor="end" font-weight="normal" fill="#111" stroke="#111" stroke-width="0.2" >0</text>
<line x1="74.00" y1="360.57" x2="77.70" y2="360.57" stroke="#222" stroke-width="1.1" />
<text x="72.30" y="364.18" font-size="10.2" text-anchor="end" font-weight="normal" fill="#111" stroke="#111" stroke-width="0.2" >25</text>
<line x1="74.00" y1="333.65" x2="77.70" y2="333.65" stroke="#222" stroke-width="1.1" />
<text x="72.30" y="337.25" font-size="10.2" text-anchor="end" font-weight="normal" fill="#111" stroke="#111" stroke-width="0.2" >50</text>
<line x1="74.00" y1="306.73" x2="77.70" y2="306.73" stroke="#222" stroke-width="1.1" />
<text x="72.30" y="310.33" font-size="10.2" text-anchor="end" font-weight="normal" fill="#111" stroke="#111" stroke-width="0.2" >75</text>
<line x1="74.00" y1="279.80" x2="77.70" y2="279.80" stroke="#222" stroke-width="1.1" />
<text x="72.30" y="283.40" font-size="10.2" text-anchor="end" font-weight="normal" fill="#111" stroke="#111" stroke-width="0.2" >100</text>
<text x="0" y="0" font-size="10.8" text-anchor="middle" fill="#111" transform="translate(50.6,315.5) rotate(-90)">Live tumor cells (%)</text>
<text x="126.20" y="402.60" font-size="10.8" text-anchor="middle" font-weight="normal" fill="#111" stroke="#111" stroke-width="0.2" >0.25:1</text>
<path d="M83.50,245.50 V242.50 H96.50 V245.50" fill="none" stroke="#333" stroke-width="0.9" />
<text x="90.00" y="240.70" font-size="9.5" text-anchor="middle" font-weight="normal" fill="#111" stroke="#111" stroke-width="0.2" >ns</text>
<path d="M107.70,341.50 V338.50 H120.80 V341.50" fill="none" stroke="#333" stroke-width="0.9" />
<text x="114.20" y="336.60" font-size="9.5" text-anchor="middle" font-weight="normal" fill="#111" stroke="#111" stroke-width="0.2" >ns</text>
<path d="M156.50,340.00 V337.00 H169.20 V340.00" fill="none" stroke="#333" stroke-width="0.9" />
<text x="162.80" y="335.10" font-size="9.5" text-anchor="middle" font-weight="normal" fill="#111" stroke="#111" stroke-width="0.2" >ns</text>
<path d="M131.50,278.80 V275.80 H144.60 V278.80" fill="none" stroke="#333" stroke-width="0.9" />
<text x="138.00" y="273.90" font-size="9.5" text-anchor="middle" font-weight="normal" fill="#111" stroke="#111" stroke-width="0.2" >ns</text>
<path d="M109.50,312.20 V309.20 H121.50 V312.20" fill="none" stroke="#333" stroke-width="0.9" />
<path d="M130.80,265.30 V262.30 H142.80 V265.30" fill="none" stroke="#333" stroke-width="0.9" />
<path d="M158.50,327.20 V324.20 H170.50 V327.20" fill="none" stroke="#333" stroke-width="0.9" />
<path d="M115.2,309.2 V258.5 H136.6 V262.3" fill="none" stroke="#333" stroke-width="0.9" />
<path d="M139.2,262.3 V253.5 H164.3 V324.2" fill="none" stroke="#333" stroke-width="0.9" />
<polygon points="120.05,252.80 120.71,254.24 122.28,254.42 121.12,255.50 121.43,257.05 120.05,256.28 118.67,257.05 118.98,255.50 117.82,254.42 119.39,254.24" fill="#222"/>
<polygon points="124.15,252.80 124.81,254.24 126.38,254.42 125.22,255.50 125.53,257.05 124.15,256.28 122.77,257.05 123.08,255.50 121.92,254.42 123.49,254.24" fill="#222"/>
<polygon points="128.25,252.80 128.91,254.24 130.48,254.42 129.32,255.50 129.63,257.05 128.25,256.28 126.87,257.05 127.18,255.50 126.02,254.42 127.59,254.24" fill="#222"/>
<polygon points="132.35,252.80 133.01,254.24 134.58,254.42 133.42,255.50 133.73,257.05 132.35,256.28 130.97,257.05 131.28,255.50 130.12,254.42 131.69,254.24" fill="#222"/>
<polygon points="145.75,248.70 146.41,250.14 147.98,250.32 146.82,251.40 147.13,252.95 145.75,252.18 144.37,252.95 144.68,251.40 143.52,250.32 145.09,250.14" fill="#222"/>
<polygon points="149.85,248.70 150.51,250.14 152.08,250.32 150.92,251.40 151.23,252.95 149.85,252.18 148.47,252.95 148.78,251.40 147.62,250.32 149.19,250.14" fill="#222"/>
<polygon points="153.95,248.70 154.61,250.14 156.18,250.32 155.02,251.40 155.33,252.95 153.95,252.18 152.57,252.95 152.88,251.40 151.72,250.32 153.29,250.14" fill="#222"/>
<polygon points="158.05,248.70 158.71,250.14 160.28,250.32 159.12,251.40 159.43,252.95 158.05,252.18 156.67,252.95 156.98,251.40 155.82,250.32 157.39,250.14" fill="#222"/>
<rect x="188.70" y="260.80" width="4.40" height="4.40" rx="0" fill="#ffffff" stroke="#8a8a8a" stroke-width="0.9" />
<text x="208.00" y="267.30" font-size="10.8" text-anchor="start" font-weight="normal" fill="#111" stroke="#111" stroke-width="0.2" >NT</text>
<rect x="188.70" y="276.30" width="4.40" height="4.40" rx="0" fill="#c8c8c8" stroke="#aaaaaa" stroke-width="0.9" />
<text x="208.00" y="282.20" font-size="10.8" text-anchor="start" font-weight="normal" fill="#111" stroke="#111" stroke-width="0.2" >Ctrl</text>
<rect x="188.70" y="292.80" width="4.40" height="4.40" rx="0" fill="#f9cde0" stroke="#f5a0c4" stroke-width="0.9" />
<text x="208.00" y="298.80" font-size="10.8" text-anchor="start" font-weight="normal" fill="#111" stroke="#111" stroke-width="0.2" >28.<tspan font-style="italic">mζ</tspan></text>
<rect x="188.70" y="308.60" width="4.40" height="4.40" rx="0" fill="#e6789c" stroke="#dc5c88" stroke-width="0.9" />
<text x="208.00" y="314.40" font-size="10.8" text-anchor="start" font-weight="normal" fill="#111" stroke="#111" stroke-width="0.2" >28.<tspan font-style="italic">ζ</tspan></text>
<rect x="188.70" y="324.30" width="4.40" height="4.40" rx="0" fill="#dfe8fd" stroke="#6f8ff2" stroke-width="0.9" />
<text x="208.00" y="330.40" font-size="10.8" text-anchor="start" font-weight="normal" fill="#111" stroke="#111" stroke-width="0.2" >BB.<tspan font-style="italic">mζ</tspan></text>
<rect x="188.70" y="339.60" width="4.40" height="4.40" rx="0" fill="#fde3cc" stroke="#f8c090" stroke-width="0.9" />
<text x="208.00" y="348.70" font-size="10.8" text-anchor="start" font-weight="normal" fill="#111" stroke="#111" stroke-width="0.2" ><tspan font-size="7.5" dy="-5">CD8tm</tspan><tspan dy="5">BB.<tspan font-style="italic">mζ</tspan></tspan></text>
<rect x="188.70" y="358.10" width="4.40" height="4.40" rx="0" fill="#f07a2a" stroke="#ec6a18" stroke-width="0.9" />
<text x="208.00" y="367.20" font-size="10.8" text-anchor="start" font-weight="normal" fill="#111" stroke="#111" stroke-width="0.2" ><tspan font-size="7.5" dy="-5">CD8tm</tspan><tspan dy="5">BB.<tspan font-style="italic">ζ</tspan></tspan></text>
<rect x="188.70" y="377.60" width="4.40" height="4.40" rx="0" fill="#dea0f8" stroke="#cf80f4" stroke-width="0.9" />
<text x="208.00" y="383.60" font-size="10.8" text-anchor="start" font-weight="normal" fill="#111" stroke="#111" stroke-width="0.2" >BBL- 28.<tspan font-style="italic">mζ</tspan></text>
<text x="281.50" y="245.40" font-size="10.5" text-anchor="start" font-weight="bold" fill="#111"  >C</text>
<text x="314.60" y="260.80" font-size="12.3" text-anchor="start" font-weight="bold" fill="#111"  >i.</text>
<text x="352.20" y="263.10" font-size="13.3" text-anchor="start" font-weight="normal" fill="#111" stroke="#111" stroke-width="0.2" >Ctrl</text>
<line x1="333.70" y1="283.50" x2="333.70" y2="382.40" stroke="#222" stroke-width="1.2" />
<line x1="329.90" y1="379.40" x2="333.70" y2="379.40" stroke="#222" stroke-width="1.1" />
<line x1="331.70" y1="373.63" x2="333.70" y2="373.63" stroke="#444" stroke-width="0.7" />
<line x1="331.70" y1="370.25" x2="333.70" y2="370.25" stroke="#444" stroke-width="0.7" />
<line x1="331.70" y1="367.85" x2="333.70" y2="367.85" stroke="#444" stroke-width="0.7" />
<line x1="331.70" y1="365.99" x2="333.70" y2="365.99" stroke="#444" stroke-width="0.7" />
<line x1="331.70" y1="364.48" x2="333.70" y2="364.48" stroke="#444" stroke-width="0.7" />
<line x1="331.70" y1="363.19" x2="333.70" y2="363.19" stroke="#444" stroke-width="0.7" />
<line x1="331.70" y1="362.08" x2="333.70" y2="362.08" stroke="#444" stroke-width="0.7" />
<line x1="331.70" y1="361.10" x2="333.70" y2="361.10" stroke="#444" stroke-width="0.7" />
<text x="328.50" y="382.80" font-size="10.6" text-anchor="end" fill="#111">10<tspan font-size="6.6" dy="-4.2">-1</tspan></text>
<line x1="329.90" y1="360.22" x2="333.70" y2="360.22" stroke="#222" stroke-width="1.1" />
<line x1="331.70" y1="354.45" x2="333.70" y2="354.45" stroke="#444" stroke-width="0.7" />
<line x1="331.70" y1="351.07" x2="333.70" y2="351.07" stroke="#444" stroke-width="0.7" />
<line x1="331.70" y1="348.67" x2="333.70" y2="348.67" stroke="#444" stroke-width="0.7" />
<line x1="331.70" y1="346.81" x2="333.70" y2="346.81" stroke="#444" stroke-width="0.7" />
<line x1="331.70" y1="345.30" x2="333.70" y2="345.30" stroke="#444" stroke-width="0.7" />
<line x1="331.70" y1="344.01" x2="333.70" y2="344.01" stroke="#444" stroke-width="0.7" />
<line x1="331.70" y1="342.90" x2="333.70" y2="342.90" stroke="#444" stroke-width="0.7" />
<line x1="331.70" y1="341.92" x2="333.70" y2="341.92" stroke="#444" stroke-width="0.7" />
<text x="328.50" y="363.62" font-size="10.6" text-anchor="end" fill="#111">10<tspan font-size="6.6" dy="-4.2">0</tspan></text>
<line x1="329.90" y1="341.04" x2="333.70" y2="341.04" stroke="#222" stroke-width="1.1" />
<line x1="331.70" y1="335.27" x2="333.70" y2="335.27" stroke="#444" stroke-width="0.7" />
<line x1="331.70" y1="331.89" x2="333.70" y2="331.89" stroke="#444" stroke-width="0.7" />
<line x1="331.70" y1="329.49" x2="333.70" y2="329.49" stroke="#444" stroke-width="0.7" />
<line x1="331.70" y1="327.63" x2="333.70" y2="327.63" stroke="#444" stroke-width="0.7" />
<line x1="331.70" y1="326.12" x2="333.70" y2="326.12" stroke="#444" stroke-width="0.7" />
<line x1="331.70" y1="324.83" x2="333.70" y2="324.83" stroke="#444" stroke-width="0.7" />
<line x1="331.70" y1="323.72" x2="333.70" y2="323.72" stroke="#444" stroke-width="0.7" />
<line x1="331.70" y1="322.74" x2="333.70" y2="322.74" stroke="#444" stroke-width="0.7" />
<text x="328.50" y="344.44" font-size="10.6" text-anchor="end" fill="#111">10<tspan font-size="6.6" dy="-4.2">1</tspan></text>
<line x1="329.90" y1="321.86" x2="333.70" y2="321.86" stroke="#222" stroke-width="1.1" />
<line x1="331.70" y1="316.09" x2="333.70" y2="316.09" stroke="#444" stroke-width="0.7" />
<line x1="331.70" y1="312.71" x2="333.70" y2="312.71" stroke="#444" stroke-width="0.7" />
<line x1="331.70" y1="310.31" x2="333.70" y2="310.31" stroke="#444" stroke-width="0.7" />
<line x1="331.70" y1="308.45" x2="333.70" y2="308.45" stroke="#444" stroke-width="0.7" />
<line x1="331.70" y1="306.94" x2="333.70" y2="306.94" stroke="#444" stroke-width="0.7" />
<line x1="331.70" y1="305.65" x2="333.70" y2="305.65" stroke="#444" stroke-width="0.7" />
<line x1="331.70" y1="304.54" x2="333.70" y2="304.54" stroke="#444" stroke-width="0.7" />
<line x1="331.70" y1="303.56" x2="333.70" y2="303.56" stroke="#444" stroke-width="0.7" />
<text x="328.50" y="325.26" font-size="10.6" text-anchor="end" fill="#111">10<tspan font-size="6.6" dy="-4.2">2</tspan></text>
<line x1="329.90" y1="302.68" x2="333.70" y2="302.68" stroke="#222" stroke-width="1.1" />
<line x1="331.70" y1="296.91" x2="333.70" y2="296.91" stroke="#444" stroke-width="0.7" />
<line x1="331.70" y1="293.53" x2="333.70" y2="293.53" stroke="#444" stroke-width="0.7" />
<line x1="331.70" y1="291.13" x2="333.70" y2="291.13" stroke="#444" stroke-width="0.7" />
<line x1="331.70" y1="289.27" x2="333.70" y2="289.27" stroke="#444" stroke-width="0.7" />
<line x1="331.70" y1="287.76" x2="333.70" y2="287.76" stroke="#444" stroke-width="0.7" />
<line x1="331.70" y1="286.47" x2="333.70" y2="286.47" stroke="#444" stroke-width="0.7" />
<line x1="331.70" y1="285.36" x2="333.70" y2="285.36" stroke="#444" stroke-width="0.7" />
<line x1="331.70" y1="284.38" x2="333.70" y2="284.38" stroke="#444" stroke-width="0.7" />
<text x="328.50" y="306.08" font-size="10.6" text-anchor="end" fill="#111">10<tspan font-size="6.6" dy="-4.2">3</tspan></text>
<line x1="329.90" y1="283.50" x2="333.70" y2="283.50" stroke="#222" stroke-width="1.1" />
<text x="328.50" y="286.90" font-size="10.6" text-anchor="end" fill="#111">10<tspan font-size="6.6" dy="-4.2">4</tspan></text>
<line x1="330.20" y1="379.40" x2="398.10" y2="379.40" stroke="#222" stroke-width="1.2" />
<line x1="333.70" y1="379.40" x2="333.70" y2="382.40" stroke="#222" stroke-width="1.1" />
<text x="333.70" y="394.60" font-size="10.6" text-anchor="middle" font-weight="normal" fill="#111" stroke="#111" stroke-width="0.2" >0</text>
<line x1="349.70" y1="379.40" x2="349.70" y2="382.40" stroke="#222" stroke-width="1.1" />
<text x="349.70" y="394.60" font-size="10.6" text-anchor="middle" font-weight="normal" fill="#111" stroke="#111" stroke-width="0.2" >2</text>
<line x1="365.70" y1="379.40" x2="365.70" y2="382.40" stroke="#222" stroke-width="1.1" />
<text x="365.70" y="394.60" font-size="10.6" text-anchor="middle" font-weight="normal" fill="#111" stroke="#111" stroke-width="0.2" >4</text>
<line x1="381.70" y1="379.40" x2="381.70" y2="382.40" stroke="#222" stroke-width="1.1" />
<text x="381.70" y="394.60" font-size="10.6" text-anchor="middle" font-weight="normal" fill="#111" stroke="#111" stroke-width="0.2" >6</text>
<line x1="397.70" y1="379.40" x2="397.70" y2="382.40" stroke="#222" stroke-width="1.1" />
<text x="397.70" y="394.60" font-size="10.6" text-anchor="middle" font-weight="normal" fill="#111" stroke="#111" stroke-width="0.2" >8</text>
<text x="0" y="0" font-size="10.2" text-anchor="middle" fill="#111" transform="translate(303.4,331.7) rotate(-90)">Fold expansion</text>
<path d="M341.70,360.40 L349.70,358.80" fill="none" stroke="#8a8a8a" stroke-width="0.7" />
<path d="M341.70,360.40 L349.70,361.60" fill="none" stroke="#8a8a8a" stroke-width="0.7" />
<path d="M341.70,360.40 L349.70,364.30" fill="none" stroke="#8a8a8a" stroke-width="0.7" />
<path d="M341.70,360.40 L349.70,367.20" fill="none" stroke="#8a8a8a" stroke-width="0.7" />
<path d="M341.70,360.40 L349.70,370.00" fill="none" stroke="#8a8a8a" stroke-width="0.7" />
<path d="M341.70,360.40 L349.70,372.60" fill="none" stroke="#8a8a8a" stroke-width="0.7" />
<rect x="339.50" y="358.20" width="4.40" height="4.40" rx="0" fill="#d2d2d2" stroke="#a0a0a0" stroke-width="0.8" />
<rect x="347.50" y="356.60" width="4.40" height="4.40" rx="0" fill="#d2d2d2" stroke="#a0a0a0" stroke-width="0.8" />
<rect x="347.50" y="359.40" width="4.40" height="4.40" rx="0" fill="#d2d2d2" stroke="#a0a0a0" stroke-width="0.8" />
<rect x="347.50" y="362.10" width="4.40" height="4.40" rx="0" fill="#d2d2d2" stroke="#a0a0a0" stroke-width="0.8" />
<rect x="347.50" y="365.00" width="4.40" height="4.40" rx="0" fill="#d2d2d2" stroke="#a0a0a0" stroke-width="0.8" />
<rect x="347.50" y="367.80" width="4.40" height="4.40" rx="0" fill="#d2d2d2" stroke="#a0a0a0" stroke-width="0.8" />
<rect x="347.50" y="370.40" width="4.40" height="4.40" rx="0" fill="#d2d2d2" stroke="#a0a0a0" stroke-width="0.8" />
<text x="417.00" y="263.80" font-size="12.3" text-anchor="start" font-weight="bold" fill="#111"  >ii.</text>
<text x="446.00" y="263.80" font-size="13.6" text-anchor="start" font-weight="normal" fill="#111" stroke="#111" stroke-width="0.2" >28.<tspan font-style="italic">mζ</tspan></text>
<line x1="428.20" y1="272.90" x2="428.20" y2="382.40" stroke="#222" stroke-width="1.2" />
<line x1="424.40" y1="379.40" x2="428.20" y2="379.40" stroke="#222" stroke-width="1.1" />
<line x1="426.20" y1="372.99" x2="428.20" y2="372.99" stroke="#444" stroke-width="0.7" />
<line x1="426.20" y1="369.24" x2="428.20" y2="369.24" stroke="#444" stroke-width="0.7" />
<line x1="426.20" y1="366.58" x2="428.20" y2="366.58" stroke="#444" stroke-width="0.7" />
<line x1="426.20" y1="364.51" x2="428.20" y2="364.51" stroke="#444" stroke-width="0.7" />
<line x1="426.20" y1="362.83" x2="428.20" y2="362.83" stroke="#444" stroke-width="0.7" />
<line x1="426.20" y1="361.40" x2="428.20" y2="361.40" stroke="#444" stroke-width="0.7" />
<line x1="426.20" y1="360.16" x2="428.20" y2="360.16" stroke="#444" stroke-width="0.7" />
<line x1="426.20" y1="359.07" x2="428.20" y2="359.07" stroke="#444" stroke-width="0.7" />
<line x1="424.40" y1="358.10" x2="428.20" y2="358.10" stroke="#222" stroke-width="1.1" />
<line x1="426.20" y1="351.69" x2="428.20" y2="351.69" stroke="#444" stroke-width="0.7" />
<line x1="426.20" y1="347.94" x2="428.20" y2="347.94" stroke="#444" stroke-width="0.7" />
<line x1="426.20" y1="345.28" x2="428.20" y2="345.28" stroke="#444" stroke-width="0.7" />
<line x1="426.20" y1="343.21" x2="428.20" y2="343.21" stroke="#444" stroke-width="0.7" />
<line x1="426.20" y1="341.53" x2="428.20" y2="341.53" stroke="#444" stroke-width="0.7" />
<line x1="426.20" y1="340.10" x2="428.20" y2="340.10" stroke="#444" stroke-width="0.7" />
<line x1="426.20" y1="338.86" x2="428.20" y2="338.86" stroke="#444" stroke-width="0.7" />
<line x1="426.20" y1="337.77" x2="428.20" y2="337.77" stroke="#444" stroke-width="0.7" />
<line x1="424.40" y1="336.80" x2="428.20" y2="336.80" stroke="#222" stroke-width="1.1" />
<line x1="426.20" y1="330.39" x2="428.20" y2="330.39" stroke="#444" stroke-width="0.7" />
<line x1="426.20" y1="326.64" x2="428.20" y2="326.64" stroke="#444" stroke-width="0.7" />
<line x1="426.20" y1="323.98" x2="428.20" y2="323.98" stroke="#444" stroke-width="0.7" />
<line x1="426.20" y1="321.91" x2="428.20" y2="321.91" stroke="#444" stroke-width="0.7" />
<line x1="426.20" y1="320.23" x2="428.20" y2="320.23" stroke="#444" stroke-width="0.7" />
<line x1="426.20" y1="318.80" x2="428.20" y2="318.80" stroke="#444" stroke-width="0.7" />
<line x1="426.20" y1="317.56" x2="428.20" y2="317.56" stroke="#444" stroke-width="0.7" />
<line x1="426.20" y1="316.47" x2="428.20" y2="316.47" stroke="#444" stroke-width="0.7" />
<line x1="424.40" y1="315.50" x2="428.20" y2="315.50" stroke="#222" stroke-width="1.1" />
<line x1="426.20" y1="309.09" x2="428.20" y2="309.09" stroke="#444" stroke-width="0.7" />
<line x1="426.20" y1="305.34" x2="428.20" y2="305.34" stroke="#444" stroke-width="0.7" />
<line x1="426.20" y1="302.68" x2="428.20" y2="302.68" stroke="#444" stroke-width="0.7" />
<line x1="426.20" y1="300.61" x2="428.20" y2="300.61" stroke="#444" stroke-width="0.7" />
<line x1="426.20" y1="298.93" x2="428.20" y2="298.93" stroke="#444" stroke-width="0.7" />
<line x1="426.20" y1="297.50" x2="428.20" y2="297.50" stroke="#444" stroke-width="0.7" />
<line x1="426.20" y1="296.26" x2="428.20" y2="296.26" stroke="#444" stroke-width="0.7" />
<line x1="426.20" y1="295.17" x2="428.20" y2="295.17" stroke="#444" stroke-width="0.7" />
<line x1="424.40" y1="294.20" x2="428.20" y2="294.20" stroke="#222" stroke-width="1.1" />
<line x1="426.20" y1="287.79" x2="428.20" y2="287.79" stroke="#444" stroke-width="0.7" />
<line x1="426.20" y1="284.04" x2="428.20" y2="284.04" stroke="#444" stroke-width="0.7" />
<line x1="426.20" y1="281.38" x2="428.20" y2="281.38" stroke="#444" stroke-width="0.7" />
<line x1="426.20" y1="279.31" x2="428.20" y2="279.31" stroke="#444" stroke-width="0.7" />
<line x1="426.20" y1="277.63" x2="428.20" y2="277.63" stroke="#444" stroke-width="0.7" />
<line x1="426.20" y1="276.20" x2="428.20" y2="276.20" stroke="#444" stroke-width="0.7" />
<line x1="426.20" y1="274.96" x2="428.20" y2="274.96" stroke="#444" stroke-width="0.7" />
<line x1="426.20" y1="273.87" x2="428.20" y2="273.87" stroke="#444" stroke-width="0.7" />
<line x1="424.40" y1="272.90" x2="428.20" y2="272.90" stroke="#222" stroke-width="1.1" />
<line x1="428.20" y1="379.40" x2="500.40" y2="379.40" stroke="#222" stroke-width="1.2" />
<line x1="428.20" y1="379.40" x2="428.20" y2="382.40" stroke="#222" stroke-width="1.1" />
<text x="428.20" y="394.60" font-size="10.6" text-anchor="middle" font-weight="normal" fill="#111" stroke="#111" stroke-width="0.2" >0</text>
<line x1="446.12" y1="379.40" x2="446.12" y2="382.40" stroke="#222" stroke-width="1.1" />
<text x="446.12" y="394.60" font-size="10.6" text-anchor="middle" font-weight="normal" fill="#111" stroke="#111" stroke-width="0.2" >2</text>
<line x1="464.04" y1="379.40" x2="464.04" y2="382.40" stroke="#222" stroke-width="1.1" />
<text x="464.04" y="394.60" font-size="10.6" text-anchor="middle" font-weight="normal" fill="#111" stroke="#111" stroke-width="0.2" >4</text>
<line x1="481.96" y1="379.40" x2="481.96" y2="382.40" stroke="#222" stroke-width="1.1" />
<text x="481.96" y="394.60" font-size="10.6" text-anchor="middle" font-weight="normal" fill="#111" stroke="#111" stroke-width="0.2" >6</text>
<line x1="499.88" y1="379.40" x2="499.88" y2="382.40" stroke="#222" stroke-width="1.1" />
<text x="499.88" y="394.60" font-size="10.6" text-anchor="middle" font-weight="normal" fill="#111" stroke="#111" stroke-width="0.2" >8</text>
<path d="M437.16,357.98 L446.12,344.28 L455.08,335.63 L464.04,324.81 L473.00,311.11 L481.96,300.29 L490.92,289.47 L499.88,280.82" fill="none" stroke="#ec3e98" stroke-width="0.9" />
<path d="M437.16,357.98 L446.12,347.89 L455.08,335.63 L464.04,324.81 L473.00,313.27 L481.96,300.29 L490.92,289.47 L499.88,288.75" fill="none" stroke="#ec3e98" stroke-width="0.9" />
<path d="M437.16,357.98 L446.12,351.49 L455.08,340.68 L464.04,331.30 L473.00,316.16 L481.96,300.29 L490.92,298.85 L499.88,301.01" fill="none" stroke="#ec3e98" stroke-width="0.9" />
<path d="M437.16,357.98 L446.12,351.49 L455.08,340.68 L464.04,331.30 L473.00,316.16 L481.96,306.78 L490.92,306.06" fill="none" stroke="#ec3e98" stroke-width="0.9" />
<path d="M437.16,357.98 L446.12,353.66 L455.08,347.89 L464.04,343.56 L473.00,332.02 L481.96,326.97 L490.92,320.48 L499.88,321.20" fill="none" stroke="#ec3e98" stroke-width="0.9" />
<path d="M437.16,357.98 L446.12,357.26 L455.08,350.77 L464.04,348.61 L473.00,332.02 L481.96,326.97 L490.92,324.09" fill="none" stroke="#ec3e98" stroke-width="0.9" />
<path d="M437.16,357.98 L446.12,357.26 L455.08,347.89 L464.04,343.56 L473.00,343.56 L481.96,345.00" fill="none" stroke="#ec3e98" stroke-width="0.9" />
<path d="M437.16,357.98 L446.12,353.66 L455.08,350.77 L464.04,348.61 L473.00,319.76 L481.96,321.20" fill="none" stroke="#ec3e98" stroke-width="0.9" />
<rect x="435.01" y="355.83" width="4.30" height="4.30" rx="0" fill="#fac6df" stroke="#f062ad" stroke-width="0.8" />
<rect x="443.97" y="342.13" width="4.30" height="4.30" rx="0" fill="#fac6df" stroke="#f062ad" stroke-width="0.8" />
<rect x="452.93" y="333.48" width="4.30" height="4.30" rx="0" fill="#fac6df" stroke="#f062ad" stroke-width="0.8" />
<rect x="461.89" y="322.66" width="4.30" height="4.30" rx="0" fill="#fac6df" stroke="#f062ad" stroke-width="0.8" />
<rect x="470.85" y="308.96" width="4.30" height="4.30" rx="0" fill="#fac6df" stroke="#f062ad" stroke-width="0.8" />
<rect x="479.81" y="298.14" width="4.30" height="4.30" rx="0" fill="#fac6df" stroke="#f062ad" stroke-width="0.8" />
<rect x="488.77" y="287.32" width="4.30" height="4.30" rx="0" fill="#fac6df" stroke="#f062ad" stroke-width="0.8" />
<rect x="497.73" y="278.67" width="4.30" height="4.30" rx="0" fill="#fac6df" stroke="#f062ad" stroke-width="0.8" />
<rect x="443.97" y="345.74" width="4.30" height="4.30" rx="0" fill="#fac6df" stroke="#f062ad" stroke-width="0.8" />
<rect x="470.85" y="311.12" width="4.30" height="4.30" rx="0" fill="#fac6df" stroke="#f062ad" stroke-width="0.8" />
<rect x="497.73" y="286.60" width="4.30" height="4.30" rx="0" fill="#fac6df" stroke="#f062ad" stroke-width="0.8" />
<rect x="443.97" y="349.34" width="4.30" height="4.30" rx="0" fill="#fac6df" stroke="#f062ad" stroke-width="0.8" />
<rect x="452.93" y="338.53" width="4.30" height="4.30" rx="0" fill="#fac6df" stroke="#f062ad" stroke-width="0.8" />
<rect x="461.89" y="329.15" width="4.30" height="4.30" rx="0" fill="#fac6df" stroke="#f062ad" stroke-width="0.8" />
<rect x="470.85" y="314.01" width="4.30" height="4.30" rx="0" fill="#fac6df" stroke="#f062ad" stroke-width="0.8" />
<rect x="488.77" y="296.70" width="4.30" height="4.30" rx="0" fill="#fac6df" stroke="#f062ad" stroke-width="0.8" />
<rect x="497.73" y="298.86" width="4.30" height="4.30" rx="0" fill="#fac6df" stroke="#f062ad" stroke-width="0.8" />
<rect x="479.81" y="304.63" width="4.30" height="4.30" rx="0" fill="#fac6df" stroke="#f062ad" stroke-width="0.8" />
<rect x="488.77" y="303.91" width="4.30" height="4.30" rx="0" fill="#fac6df" stroke="#f062ad" stroke-width="0.8" />
<rect x="443.97" y="351.51" width="4.30" height="4.30" rx="0" fill="#fac6df" stroke="#f062ad" stroke-width="0.8" />
<rect x="452.93" y="345.74" width="4.30" height="4.30" rx="0" fill="#fac6df" stroke="#f062ad" stroke-width="0.8" />
<rect x="461.89" y="341.41" width="4.30" height="4.30" rx="0" fill="#fac6df" stroke="#f062ad" stroke-width="0.8" />
<rect x="470.85" y="329.87" width="4.30" height="4.30" rx="0" fill="#fac6df" stroke="#f062ad" stroke-width="0.8" />
<rect x="479.81" y="324.82" width="4.30" height="4.30" rx="0" fill="#fac6df" stroke="#f062ad" stroke-width="0.8" />
<rect x="488.77" y="318.33" width="4.30" height="4.30" rx="0" fill="#fac6df" stroke="#f062ad" stroke-width="0.8" />
<rect x="497.73" y="319.05" width="4.30" height="4.30" rx="0" fill="#fac6df" stroke="#f062ad" stroke-width="0.8" />
<rect x="443.97" y="355.11" width="4.30" height="4.30" rx="0" fill="#fac6df" stroke="#f062ad" stroke-width="0.8" />
<rect x="452.93" y="348.62" width="4.30" height="4.30" rx="0" fill="#fac6df" stroke="#f062ad" stroke-width="0.8" />
<rect x="461.89" y="346.46" width="4.30" height="4.30" rx="0" fill="#fac6df" stroke="#f062ad" stroke-width="0.8" />
<rect x="488.77" y="321.94" width="4.30" height="4.30" rx="0" fill="#fac6df" stroke="#f062ad" stroke-width="0.8" />
<rect x="470.85" y="341.41" width="4.30" height="4.30" rx="0" fill="#fac6df" stroke="#f062ad" stroke-width="0.8" />
<rect x="479.81" y="342.85" width="4.30" height="4.30" rx="0" fill="#fac6df" stroke="#f062ad" stroke-width="0.8" />
<rect x="470.85" y="317.61" width="4.30" height="4.30" rx="0" fill="#fac6df" stroke="#f062ad" stroke-width="0.8" />
<rect x="479.81" y="319.05" width="4.30" height="4.30" rx="0" fill="#fac6df" stroke="#f062ad" stroke-width="0.8" />
<line x1="312.70" y1="404.10" x2="376.10" y2="404.10" stroke="#8c8c8c" stroke-width="1.3" />
<line x1="455.70" y1="404.10" x2="498.80" y2="404.10" stroke="#8c8c8c" stroke-width="1.3" />
<text x="415.90" y="408.90" font-size="12" text-anchor="middle" font-weight="normal" fill="#111" stroke="#111" stroke-width="0.2" >Stimulation</text>
<text x="0" y="0" font-size="11" text-anchor="middle" fill="#111" transform="translate(8.4,499.2) rotate(-90)">Fold expansion</text>
<text x="27.00" y="433.60" font-size="12.3" text-anchor="start" font-weight="bold" fill="#111"  >iii.</text>
<text x="62.60" y="438.50" font-size="13.7" text-anchor="start" font-weight="normal" fill="#111" stroke="#111" stroke-width="0.2" >28.<tspan font-style="italic">ζ</tspan></text>
<line x1="41.10" y1="447.20" x2="41.10" y2="555.00" stroke="#222" stroke-width="1.2" />
<line x1="37.30" y1="552.00" x2="41.10" y2="552.00" stroke="#222" stroke-width="1.1" />
<line x1="39.10" y1="545.69" x2="41.10" y2="545.69" stroke="#444" stroke-width="0.7" />
<line x1="39.10" y1="542.00" x2="41.10" y2="542.00" stroke="#444" stroke-width="0.7" />
<line x1="39.10" y1="539.38" x2="41.10" y2="539.38" stroke="#444" stroke-width="0.7" />
<line x1="39.10" y1="537.35" x2="41.10" y2="537.35" stroke="#444" stroke-width="0.7" />
<line x1="39.10" y1="535.69" x2="41.10" y2="535.69" stroke="#444" stroke-width="0.7" />
<line x1="39.10" y1="534.29" x2="41.10" y2="534.29" stroke="#444" stroke-width="0.7" />
<line x1="39.10" y1="533.07" x2="41.10" y2="533.07" stroke="#444" stroke-width="0.7" />
<line x1="39.10" y1="532.00" x2="41.10" y2="532.00" stroke="#444" stroke-width="0.7" />
<text x="35.90" y="555.40" font-size="11.0" text-anchor="end" fill="#111">10<tspan font-size="7.0" dy="-4.2">-1</tspan></text>
<line x1="37.30" y1="531.04" x2="41.10" y2="531.04" stroke="#222" stroke-width="1.1" />
<line x1="39.10" y1="524.73" x2="41.10" y2="524.73" stroke="#444" stroke-width="0.7" />
<line x1="39.10" y1="521.04" x2="41.10" y2="521.04" stroke="#444" stroke-width="0.7" />
<line x1="39.10" y1="518.42" x2="41.10" y2="518.42" stroke="#444" stroke-width="0.7" />
<line x1="39.10" y1="516.39" x2="41.10" y2="516.39" stroke="#444" stroke-width="0.7" />
<line x1="39.10" y1="514.73" x2="41.10" y2="514.73" stroke="#444" stroke-width="0.7" />
<line x1="39.10" y1="513.33" x2="41.10" y2="513.33" stroke="#444" stroke-width="0.7" />
<line x1="39.10" y1="512.11" x2="41.10" y2="512.11" stroke="#444" stroke-width="0.7" />
<line x1="39.10" y1="511.04" x2="41.10" y2="511.04" stroke="#444" stroke-width="0.7" />
<text x="35.90" y="534.44" font-size="11.0" text-anchor="end" fill="#111">10<tspan font-size="7.0" dy="-4.2">0</tspan></text>
<line x1="37.30" y1="510.08" x2="41.10" y2="510.08" stroke="#222" stroke-width="1.1" />
<line x1="39.10" y1="503.77" x2="41.10" y2="503.77" stroke="#444" stroke-width="0.7" />
<line x1="39.10" y1="500.08" x2="41.10" y2="500.08" stroke="#444" stroke-width="0.7" />
<line x1="39.10" y1="497.46" x2="41.10" y2="497.46" stroke="#444" stroke-width="0.7" />
<line x1="39.10" y1="495.43" x2="41.10" y2="495.43" stroke="#444" stroke-width="0.7" />
<line x1="39.10" y1="493.77" x2="41.10" y2="493.77" stroke="#444" stroke-width="0.7" />
<line x1="39.10" y1="492.37" x2="41.10" y2="492.37" stroke="#444" stroke-width="0.7" />
<line x1="39.10" y1="491.15" x2="41.10" y2="491.15" stroke="#444" stroke-width="0.7" />
<line x1="39.10" y1="490.08" x2="41.10" y2="490.08" stroke="#444" stroke-width="0.7" />
<text x="35.90" y="513.48" font-size="11.0" text-anchor="end" fill="#111">10<tspan font-size="7.0" dy="-4.2">1</tspan></text>
<line x1="37.30" y1="489.12" x2="41.10" y2="489.12" stroke="#222" stroke-width="1.1" />
<line x1="39.10" y1="482.81" x2="41.10" y2="482.81" stroke="#444" stroke-width="0.7" />
<line x1="39.10" y1="479.12" x2="41.10" y2="479.12" stroke="#444" stroke-width="0.7" />
<line x1="39.10" y1="476.50" x2="41.10" y2="476.50" stroke="#444" stroke-width="0.7" />
<line x1="39.10" y1="474.47" x2="41.10" y2="474.47" stroke="#444" stroke-width="0.7" />
<line x1="39.10" y1="472.81" x2="41.10" y2="472.81" stroke="#444" stroke-width="0.7" />
<line x1="39.10" y1="471.41" x2="41.10" y2="471.41" stroke="#444" stroke-width="0.7" />
<line x1="39.10" y1="470.19" x2="41.10" y2="470.19" stroke="#444" stroke-width="0.7" />
<line x1="39.10" y1="469.12" x2="41.10" y2="469.12" stroke="#444" stroke-width="0.7" />
<text x="35.90" y="492.52" font-size="11.0" text-anchor="end" fill="#111">10<tspan font-size="7.0" dy="-4.2">2</tspan></text>
<line x1="37.30" y1="468.16" x2="41.10" y2="468.16" stroke="#222" stroke-width="1.1" />
<line x1="39.10" y1="461.85" x2="41.10" y2="461.85" stroke="#444" stroke-width="0.7" />
<line x1="39.10" y1="458.16" x2="41.10" y2="458.16" stroke="#444" stroke-width="0.7" />
<line x1="39.10" y1="455.54" x2="41.10" y2="455.54" stroke="#444" stroke-width="0.7" />
<line x1="39.10" y1="453.51" x2="41.10" y2="453.51" stroke="#444" stroke-width="0.7" />
<line x1="39.10" y1="451.85" x2="41.10" y2="451.85" stroke="#444" stroke-width="0.7" />
<line x1="39.10" y1="450.45" x2="41.10" y2="450.45" stroke="#444" stroke-width="0.7" />
<line x1="39.10" y1="449.23" x2="41.10" y2="449.23" stroke="#444" stroke-width="0.7" />
<line x1="39.10" y1="448.16" x2="41.10" y2="448.16" stroke="#444" stroke-width="0.7" />
<text x="35.90" y="471.56" font-size="11.0" text-anchor="end" fill="#111">10<tspan font-size="7.0" dy="-4.2">3</tspan></text>
<line x1="37.30" y1="447.20" x2="41.10" y2="447.20" stroke="#222" stroke-width="1.1" />
<text x="35.90" y="450.60" font-size="11.0" text-anchor="end" fill="#111">10<tspan font-size="7.0" dy="-4.2">4</tspan></text>
<line x1="37.60" y1="552.00" x2="111.60" y2="552.00" stroke="#222" stroke-width="1.2" />
<line x1="41.10" y1="552.00" x2="41.10" y2="555.00" stroke="#222" stroke-width="1.1" />
<text x="41.10" y="568.90" font-size="10.8" text-anchor="middle" font-weight="normal" fill="#111" stroke="#111" stroke-width="0.2" >0</text>
<line x1="58.70" y1="552.00" x2="58.70" y2="555.00" stroke="#222" stroke-width="1.1" />
<text x="58.70" y="568.90" font-size="10.8" text-anchor="middle" font-weight="normal" fill="#111" stroke="#111" stroke-width="0.2" >2</text>
<line x1="76.30" y1="552.00" x2="76.30" y2="555.00" stroke="#222" stroke-width="1.1" />
<text x="76.30" y="568.90" font-size="10.8" text-anchor="middle" font-weight="normal" fill="#111" stroke="#111" stroke-width="0.2" >4</text>
<line x1="93.90" y1="552.00" x2="93.90" y2="555.00" stroke="#222" stroke-width="1.1" />
<text x="93.90" y="568.90" font-size="10.8" text-anchor="middle" font-weight="normal" fill="#111" stroke="#111" stroke-width="0.2" >6</text>
<line x1="111.50" y1="552.00" x2="111.50" y2="555.00" stroke="#222" stroke-width="1.1" />
<text x="111.50" y="568.90" font-size="10.8" text-anchor="middle" font-weight="normal" fill="#111" stroke="#111" stroke-width="0.2" >8</text>
<path d="M49.90,530.91 L58.70,516.32 L67.50,506.17 L76.30,496.65 L85.10,488.78 L93.90,482.44 L102.70,479.52" fill="none" stroke="#d43573" stroke-width="0.8" />
<path d="M49.90,530.91 L58.70,519.49 L67.50,509.34 L76.30,499.82 L85.10,493.10 L93.90,486.24" fill="none" stroke="#d43573" stroke-width="0.8" />
<path d="M49.90,530.91 L58.70,524.31 L67.50,513.78 L76.30,504.26 L85.10,503.63 L93.90,509.59" fill="none" stroke="#d43573" stroke-width="0.8" />
<path d="M49.90,530.91 L58.70,524.31 L67.50,516.70 L76.30,506.17 L85.10,503.63" fill="none" stroke="#d43573" stroke-width="0.8" />
<path d="M49.90,530.91 L58.70,528.63 L67.50,520.76 L76.30,520.51 L85.10,517.59" fill="none" stroke="#d43573" stroke-width="0.8" />
<path d="M49.90,530.91 L58.70,528.63 L67.50,524.57 L76.30,525.20 L85.10,537.89" fill="none" stroke="#d43573" stroke-width="0.8" />
<rect x="47.60" y="528.61" width="4.60" height="4.60" rx="0" fill="#e4528a" stroke="#c93068" stroke-width="0.8" />
<rect x="56.40" y="514.02" width="4.60" height="4.60" rx="0" fill="#e4528a" stroke="#c93068" stroke-width="0.8" />
<rect x="65.20" y="503.87" width="4.60" height="4.60" rx="0" fill="#e4528a" stroke="#c93068" stroke-width="0.8" />
<rect x="74.00" y="494.35" width="4.60" height="4.60" rx="0" fill="#e4528a" stroke="#c93068" stroke-width="0.8" />
<rect x="82.80" y="486.48" width="4.60" height="4.60" rx="0" fill="#e4528a" stroke="#c93068" stroke-width="0.8" />
<rect x="91.60" y="480.14" width="4.60" height="4.60" rx="0" fill="#e4528a" stroke="#c93068" stroke-width="0.8" />
<rect x="100.40" y="477.22" width="4.60" height="4.60" rx="0" fill="#e4528a" stroke="#c93068" stroke-width="0.8" />
<rect x="56.40" y="517.19" width="4.60" height="4.60" rx="0" fill="#e4528a" stroke="#c93068" stroke-width="0.8" />
<rect x="65.20" y="507.04" width="4.60" height="4.60" rx="0" fill="#e4528a" stroke="#c93068" stroke-width="0.8" />
<rect x="74.00" y="497.52" width="4.60" height="4.60" rx="0" fill="#e4528a" stroke="#c93068" stroke-width="0.8" />
<rect x="82.80" y="490.80" width="4.60" height="4.60" rx="0" fill="#e4528a" stroke="#c93068" stroke-width="0.8" />
<rect x="91.60" y="483.94" width="4.60" height="4.60" rx="0" fill="#e4528a" stroke="#c93068" stroke-width="0.8" />
<rect x="56.40" y="522.01" width="4.60" height="4.60" rx="0" fill="#e4528a" stroke="#c93068" stroke-width="0.8" />
<rect x="65.20" y="511.48" width="4.60" height="4.60" rx="0" fill="#e4528a" stroke="#c93068" stroke-width="0.8" />
<rect x="74.00" y="501.96" width="4.60" height="4.60" rx="0" fill="#e4528a" stroke="#c93068" stroke-width="0.8" />
<rect x="82.80" y="501.33" width="4.60" height="4.60" rx="0" fill="#e4528a" stroke="#c93068" stroke-width="0.8" />
<rect x="91.60" y="507.29" width="4.60" height="4.60" rx="0" fill="#e4528a" stroke="#c93068" stroke-width="0.8" />
<rect x="65.20" y="514.40" width="4.60" height="4.60" rx="0" fill="#e4528a" stroke="#c93068" stroke-width="0.8" />
<rect x="74.00" y="503.87" width="4.60" height="4.60" rx="0" fill="#e4528a" stroke="#c93068" stroke-width="0.8" />
<rect x="56.40" y="526.33" width="4.60" height="4.60" rx="0" fill="#e4528a" stroke="#c93068" stroke-width="0.8" />
<rect x="65.20" y="518.46" width="4.60" height="4.60" rx="0" fill="#e4528a" stroke="#c93068" stroke-width="0.8" />
<rect x="74.00" y="518.21" width="4.60" height="4.60" rx="0" fill="#e4528a" stroke="#c93068" stroke-width="0.8" />
<rect x="82.80" y="515.29" width="4.60" height="4.60" rx="0" fill="#e4528a" stroke="#c93068" stroke-width="0.8" />
<rect x="65.20" y="522.27" width="4.60" height="4.60" rx="0" fill="#e4528a" stroke="#c93068" stroke-width="0.8" />
<rect x="74.00" y="522.90" width="4.60" height="4.60" rx="0" fill="#e4528a" stroke="#c93068" stroke-width="0.8" />
<rect x="82.80" y="535.59" width="4.60" height="4.60" rx="0" fill="#e4528a" stroke="#c93068" stroke-width="0.8" />
<text x="131.30" y="433.80" font-size="12.3" text-anchor="start" font-weight="bold" fill="#111"  >iv.</text>
<text x="167.60" y="435.00" font-size="13.4" text-anchor="start" font-weight="normal" fill="#111" stroke="#111" stroke-width="0.2" >BB.<tspan font-style="italic">mζ</tspan></text>
<line x1="145.40" y1="447.20" x2="145.40" y2="555.00" stroke="#222" stroke-width="1.2" />
<line x1="141.60" y1="552.00" x2="145.40" y2="552.00" stroke="#222" stroke-width="1.1" />
<line x1="143.40" y1="545.69" x2="145.40" y2="545.69" stroke="#444" stroke-width="0.7" />
<line x1="143.40" y1="542.00" x2="145.40" y2="542.00" stroke="#444" stroke-width="0.7" />
<line x1="143.40" y1="539.38" x2="145.40" y2="539.38" stroke="#444" stroke-width="0.7" />
<line x1="143.40" y1="537.35" x2="145.40" y2="537.35" stroke="#444" stroke-width="0.7" />
<line x1="143.40" y1="535.69" x2="145.40" y2="535.69" stroke="#444" stroke-width="0.7" />
<line x1="143.40" y1="534.29" x2="145.40" y2="534.29" stroke="#444" stroke-width="0.7" />
<line x1="143.40" y1="533.07" x2="145.40" y2="533.07" stroke="#444" stroke-width="0.7" />
<line x1="143.40" y1="532.00" x2="145.40" y2="532.00" stroke="#444" stroke-width="0.7" />
<line x1="141.60" y1="531.04" x2="145.40" y2="531.04" stroke="#222" stroke-width="1.1" />
<line x1="143.40" y1="524.73" x2="145.40" y2="524.73" stroke="#444" stroke-width="0.7" />
<line x1="143.40" y1="521.04" x2="145.40" y2="521.04" stroke="#444" stroke-width="0.7" />
<line x1="143.40" y1="518.42" x2="145.40" y2="518.42" stroke="#444" stroke-width="0.7" />
<line x1="143.40" y1="516.39" x2="145.40" y2="516.39" stroke="#444" stroke-width="0.7" />
<line x1="143.40" y1="514.73" x2="145.40" y2="514.73" stroke="#444" stroke-width="0.7" />
<line x1="143.40" y1="513.33" x2="145.40" y2="513.33" stroke="#444" stroke-width="0.7" />
<line x1="143.40" y1="512.11" x2="145.40" y2="512.11" stroke="#444" stroke-width="0.7" />
<line x1="143.40" y1="511.04" x2="145.40" y2="511.04" stroke="#444" stroke-width="0.7" />
<line x1="141.60" y1="510.08" x2="145.40" y2="510.08" stroke="#222" stroke-width="1.1" />
<line x1="143.40" y1="503.77" x2="145.40" y2="503.77" stroke="#444" stroke-width="0.7" />
<line x1="143.40" y1="500.08" x2="145.40" y2="500.08" stroke="#444" stroke-width="0.7" />
<line x1="143.40" y1="497.46" x2="145.40" y2="497.46" stroke="#444" stroke-width="0.7" />
<line x1="143.40" y1="495.43" x2="145.40" y2="495.43" stroke="#444" stroke-width="0.7" />
<line x1="143.40" y1="493.77" x2="145.40" y2="493.77" stroke="#444" stroke-width="0.7" />
<line x1="143.40" y1="492.37" x2="145.40" y2="492.37" stroke="#444" stroke-width="0.7" />
<line x1="143.40" y1="491.15" x2="145.40" y2="491.15" stroke="#444" stroke-width="0.7" />
<line x1="143.40" y1="490.08" x2="145.40" y2="490.08" stroke="#444" stroke-width="0.7" />
<line x1="141.60" y1="489.12" x2="145.40" y2="489.12" stroke="#222" stroke-width="1.1" />
<line x1="143.40" y1="482.81" x2="145.40" y2="482.81" stroke="#444" stroke-width="0.7" />
<line x1="143.40" y1="479.12" x2="145.40" y2="479.12" stroke="#444" stroke-width="0.7" />
<line x1="143.40" y1="476.50" x2="145.40" y2="476.50" stroke="#444" stroke-width="0.7" />
<line x1="143.40" y1="474.47" x2="145.40" y2="474.47" stroke="#444" stroke-width="0.7" />
<line x1="143.40" y1="472.81" x2="145.40" y2="472.81" stroke="#444" stroke-width="0.7" />
<line x1="143.40" y1="471.41" x2="145.40" y2="471.41" stroke="#444" stroke-width="0.7" />
<line x1="143.40" y1="470.19" x2="145.40" y2="470.19" stroke="#444" stroke-width="0.7" />
<line x1="143.40" y1="469.12" x2="145.40" y2="469.12" stroke="#444" stroke-width="0.7" />
<line x1="141.60" y1="468.16" x2="145.40" y2="468.16" stroke="#222" stroke-width="1.1" />
<line x1="143.40" y1="461.85" x2="145.40" y2="461.85" stroke="#444" stroke-width="0.7" />
<line x1="143.40" y1="458.16" x2="145.40" y2="458.16" stroke="#444" stroke-width="0.7" />
<line x1="143.40" y1="455.54" x2="145.40" y2="455.54" stroke="#444" stroke-width="0.7" />
<line x1="143.40" y1="453.51" x2="145.40" y2="453.51" stroke="#444" stroke-width="0.7" />
<line x1="143.40" y1="451.85" x2="145.40" y2="451.85" stroke="#444" stroke-width="0.7" />
<line x1="143.40" y1="450.45" x2="145.40" y2="450.45" stroke="#444" stroke-width="0.7" />
<line x1="143.40" y1="449.23" x2="145.40" y2="449.23" stroke="#444" stroke-width="0.7" />
<line x1="143.40" y1="448.16" x2="145.40" y2="448.16" stroke="#444" stroke-width="0.7" />
<line x1="141.60" y1="447.20" x2="145.40" y2="447.20" stroke="#222" stroke-width="1.1" />
<line x1="145.40" y1="552.00" x2="215.60" y2="552.00" stroke="#222" stroke-width="1.2" />
<line x1="145.40" y1="552.00" x2="145.40" y2="555.00" stroke="#222" stroke-width="1.1" />
<text x="145.40" y="568.90" font-size="10.8" text-anchor="middle" font-weight="normal" fill="#111" stroke="#111" stroke-width="0.2" >0</text>
<line x1="162.88" y1="552.00" x2="162.88" y2="555.00" stroke="#222" stroke-width="1.1" />
<text x="162.88" y="568.90" font-size="10.8" text-anchor="middle" font-weight="normal" fill="#111" stroke="#111" stroke-width="0.2" >2</text>
<line x1="180.36" y1="552.00" x2="180.36" y2="555.00" stroke="#222" stroke-width="1.1" />
<text x="180.36" y="568.90" font-size="10.8" text-anchor="middle" font-weight="normal" fill="#111" stroke="#111" stroke-width="0.2" >4</text>
<line x1="197.84" y1="552.00" x2="197.84" y2="555.00" stroke="#222" stroke-width="1.1" />
<text x="197.84" y="568.90" font-size="10.8" text-anchor="middle" font-weight="normal" fill="#111" stroke="#111" stroke-width="0.2" >6</text>
<line x1="215.32" y1="552.00" x2="215.32" y2="555.00" stroke="#222" stroke-width="1.1" />
<text x="215.32" y="568.90" font-size="10.8" text-anchor="middle" font-weight="normal" fill="#111" stroke="#111" stroke-width="0.2" >8</text>
<path d="M154.14,530.78 L162.88,516.47 L171.62,504.24 L180.36,492.01 L189.10,480.00 L197.84,471.23 L206.58,465.70 L215.32,466.85" fill="none" stroke="#2233e0" stroke-width="0.9" />
<path d="M154.14,530.78 L162.88,518.78 L171.62,508.85 L180.36,498.47 L189.10,488.08 L197.84,477.70 L206.58,474.23 L215.32,481.85" fill="none" stroke="#2233e0" stroke-width="0.9" />
<path d="M154.14,530.78 L162.88,523.85 L171.62,512.31 L180.36,508.85 L189.10,507.24 L197.84,488.08 L206.58,488.77" fill="none" stroke="#2233e0" stroke-width="0.9" />
<path d="M154.14,530.78 L162.88,523.85 L171.62,519.24 L180.36,513.47 L189.10,507.24 L197.84,510.01" fill="none" stroke="#2233e0" stroke-width="0.9" />
<path d="M154.14,530.78 L162.88,527.32 L171.62,523.85 L180.36,524.32 L189.10,516.47 L197.84,519.24" fill="none" stroke="#2233e0" stroke-width="0.9" />
<path d="M154.14,530.78 L162.88,527.32 L171.62,523.85 L180.36,524.32 L189.10,530.78" fill="none" stroke="#2233e0" stroke-width="0.9" />
<rect x="151.84" y="528.48" width="4.60" height="4.60" rx="0" fill="#c6d8fb" stroke="#4d74f2" stroke-width="0.8" />
<rect x="160.58" y="514.17" width="4.60" height="4.60" rx="0" fill="#c6d8fb" stroke="#4d74f2" stroke-width="0.8" />
<rect x="169.32" y="501.94" width="4.60" height="4.60" rx="0" fill="#c6d8fb" stroke="#4d74f2" stroke-width="0.8" />
<rect x="178.06" y="489.71" width="4.60" height="4.60" rx="0" fill="#c6d8fb" stroke="#4d74f2" stroke-width="0.8" />
<rect x="186.80" y="477.70" width="4.60" height="4.60" rx="0" fill="#c6d8fb" stroke="#4d74f2" stroke-width="0.8" />
<rect x="195.54" y="468.93" width="4.60" height="4.60" rx="0" fill="#c6d8fb" stroke="#4d74f2" stroke-width="0.8" />
<rect x="204.28" y="463.40" width="4.60" height="4.60" rx="0" fill="#c6d8fb" stroke="#4d74f2" stroke-width="0.8" />
<rect x="213.02" y="464.55" width="4.60" height="4.60" rx="0" fill="#c6d8fb" stroke="#4d74f2" stroke-width="0.8" />
<rect x="160.58" y="516.48" width="4.60" height="4.60" rx="0" fill="#c6d8fb" stroke="#4d74f2" stroke-width="0.8" />
<rect x="169.32" y="506.55" width="4.60" height="4.60" rx="0" fill="#c6d8fb" stroke="#4d74f2" stroke-width="0.8" />
<rect x="178.06" y="496.17" width="4.60" height="4.60" rx="0" fill="#c6d8fb" stroke="#4d74f2" stroke-width="0.8" />
<rect x="186.80" y="485.78" width="4.60" height="4.60" rx="0" fill="#c6d8fb" stroke="#4d74f2" stroke-width="0.8" />
<rect x="195.54" y="475.40" width="4.60" height="4.60" rx="0" fill="#c6d8fb" stroke="#4d74f2" stroke-width="0.8" />
<rect x="204.28" y="471.93" width="4.60" height="4.60" rx="0" fill="#c6d8fb" stroke="#4d74f2" stroke-width="0.8" />
<rect x="213.02" y="479.55" width="4.60" height="4.60" rx="0" fill="#c6d8fb" stroke="#4d74f2" stroke-width="0.8" />
<rect x="160.58" y="521.55" width="4.60" height="4.60" rx="0" fill="#c6d8fb" stroke="#4d74f2" stroke-width="0.8" />
<rect x="169.32" y="510.01" width="4.60" height="4.60" rx="0" fill="#c6d8fb" stroke="#4d74f2" stroke-width="0.8" />
<rect x="178.06" y="506.55" width="4.60" height="4.60" rx="0" fill="#c6d8fb" stroke="#4d74f2" stroke-width="0.8" />
<rect x="186.80" y="504.94" width="4.60" height="4.60" rx="0" fill="#c6d8fb" stroke="#4d74f2" stroke-width="0.8" />
<rect x="195.54" y="485.78" width="4.60" height="4.60" rx="0" fill="#c6d8fb" stroke="#4d74f2" stroke-width="0.8" />
<rect x="204.28" y="486.47" width="4.60" height="4.60" rx="0" fill="#c6d8fb" stroke="#4d74f2" stroke-width="0.8" />
<rect x="169.32" y="516.94" width="4.60" height="4.60" rx="0" fill="#c6d8fb" stroke="#4d74f2" stroke-width="0.8" />
<rect x="178.06" y="511.17" width="4.60" height="4.60" rx="0" fill="#c6d8fb" stroke="#4d74f2" stroke-width="0.8" />
<rect x="195.54" y="507.71" width="4.60" height="4.60" rx="0" fill="#c6d8fb" stroke="#4d74f2" stroke-width="0.8" />
<rect x="160.58" y="525.02" width="4.60" height="4.60" rx="0" fill="#c6d8fb" stroke="#4d74f2" stroke-width="0.8" />
<rect x="169.32" y="521.55" width="4.60" height="4.60" rx="0" fill="#c6d8fb" stroke="#4d74f2" stroke-width="0.8" />
<rect x="178.06" y="522.02" width="4.60" height="4.60" rx="0" fill="#c6d8fb" stroke="#4d74f2" stroke-width="0.8" />
<rect x="186.80" y="514.17" width="4.60" height="4.60" rx="0" fill="#c6d8fb" stroke="#4d74f2" stroke-width="0.8" />
<rect x="195.54" y="516.94" width="4.60" height="4.60" rx="0" fill="#c6d8fb" stroke="#4d74f2" stroke-width="0.8" />
<rect x="186.80" y="528.48" width="4.60" height="4.60" rx="0" fill="#c6d8fb" stroke="#4d74f2" stroke-width="0.8" />
<text x="223.00" y="434.00" font-size="12.3" text-anchor="start" font-weight="bold" fill="#111"  >v.</text>
<text x="236.00" y="430.60" font-size="8.8" text-anchor="start" font-weight="normal" fill="#111" stroke="#111" stroke-width="0.2" textLength="27" lengthAdjust="spacingAndGlyphs">CD8tm</text>
<text x="263.00" y="435.60" font-size="13.4" text-anchor="start" font-weight="normal" fill="#111" stroke="#111" stroke-width="0.2" >BB.<tspan font-style="italic">mζ</tspan></text>
<line x1="240.80" y1="451.80" x2="240.80" y2="562.60" stroke="#222" stroke-width="1.2" />
<line x1="237.00" y1="559.60" x2="240.80" y2="559.60" stroke="#222" stroke-width="1.1" />
<line x1="238.80" y1="553.11" x2="240.80" y2="553.11" stroke="#444" stroke-width="0.7" />
<line x1="238.80" y1="549.31" x2="240.80" y2="549.31" stroke="#444" stroke-width="0.7" />
<line x1="238.80" y1="546.62" x2="240.80" y2="546.62" stroke="#444" stroke-width="0.7" />
<line x1="238.80" y1="544.53" x2="240.80" y2="544.53" stroke="#444" stroke-width="0.7" />
<line x1="238.80" y1="542.82" x2="240.80" y2="542.82" stroke="#444" stroke-width="0.7" />
<line x1="238.80" y1="541.38" x2="240.80" y2="541.38" stroke="#444" stroke-width="0.7" />
<line x1="238.80" y1="540.13" x2="240.80" y2="540.13" stroke="#444" stroke-width="0.7" />
<line x1="238.80" y1="539.03" x2="240.80" y2="539.03" stroke="#444" stroke-width="0.7" />
<line x1="237.00" y1="538.04" x2="240.80" y2="538.04" stroke="#222" stroke-width="1.1" />
<line x1="238.80" y1="531.55" x2="240.80" y2="531.55" stroke="#444" stroke-width="0.7" />
<line x1="238.80" y1="527.75" x2="240.80" y2="527.75" stroke="#444" stroke-width="0.7" />
<line x1="238.80" y1="525.06" x2="240.80" y2="525.06" stroke="#444" stroke-width="0.7" />
<line x1="238.80" y1="522.97" x2="240.80" y2="522.97" stroke="#444" stroke-width="0.7" />
<line x1="238.80" y1="521.26" x2="240.80" y2="521.26" stroke="#444" stroke-width="0.7" />
<line x1="238.80" y1="519.82" x2="240.80" y2="519.82" stroke="#444" stroke-width="0.7" />
<line x1="238.80" y1="518.57" x2="240.80" y2="518.57" stroke="#444" stroke-width="0.7" />
<line x1="238.80" y1="517.47" x2="240.80" y2="517.47" stroke="#444" stroke-width="0.7" />
<line x1="237.00" y1="516.48" x2="240.80" y2="516.48" stroke="#222" stroke-width="1.1" />
<line x1="238.80" y1="509.99" x2="240.80" y2="509.99" stroke="#444" stroke-width="0.7" />
<line x1="238.80" y1="506.19" x2="240.80" y2="506.19" stroke="#444" stroke-width="0.7" />
<line x1="238.80" y1="503.50" x2="240.80" y2="503.50" stroke="#444" stroke-width="0.7" />
<line x1="238.80" y1="501.41" x2="240.80" y2="501.41" stroke="#444" stroke-width="0.7" />
<line x1="238.80" y1="499.70" x2="240.80" y2="499.70" stroke="#444" stroke-width="0.7" />
<line x1="238.80" y1="498.26" x2="240.80" y2="498.26" stroke="#444" stroke-width="0.7" />
<line x1="238.80" y1="497.01" x2="240.80" y2="497.01" stroke="#444" stroke-width="0.7" />
<line x1="238.80" y1="495.91" x2="240.80" y2="495.91" stroke="#444" stroke-width="0.7" />
<line x1="237.00" y1="494.92" x2="240.80" y2="494.92" stroke="#222" stroke-width="1.1" />
<line x1="238.80" y1="488.43" x2="240.80" y2="488.43" stroke="#444" stroke-width="0.7" />
<line x1="238.80" y1="484.63" x2="240.80" y2="484.63" stroke="#444" stroke-width="0.7" />
<line x1="238.80" y1="481.94" x2="240.80" y2="481.94" stroke="#444" stroke-width="0.7" />
<line x1="238.80" y1="479.85" x2="240.80" y2="479.85" stroke="#444" stroke-width="0.7" />
<line x1="238.80" y1="478.14" x2="240.80" y2="478.14" stroke="#444" stroke-width="0.7" />
<line x1="238.80" y1="476.70" x2="240.80" y2="476.70" stroke="#444" stroke-width="0.7" />
<line x1="238.80" y1="475.45" x2="240.80" y2="475.45" stroke="#444" stroke-width="0.7" />
<line x1="238.80" y1="474.35" x2="240.80" y2="474.35" stroke="#444" stroke-width="0.7" />
<line x1="237.00" y1="473.36" x2="240.80" y2="473.36" stroke="#222" stroke-width="1.1" />
<line x1="238.80" y1="466.87" x2="240.80" y2="466.87" stroke="#444" stroke-width="0.7" />
<line x1="238.80" y1="463.07" x2="240.80" y2="463.07" stroke="#444" stroke-width="0.7" />
<line x1="238.80" y1="460.38" x2="240.80" y2="460.38" stroke="#444" stroke-width="0.7" />
<line x1="238.80" y1="458.29" x2="240.80" y2="458.29" stroke="#444" stroke-width="0.7" />
<line x1="238.80" y1="456.58" x2="240.80" y2="456.58" stroke="#444" stroke-width="0.7" />
<line x1="238.80" y1="455.14" x2="240.80" y2="455.14" stroke="#444" stroke-width="0.7" />
<line x1="238.80" y1="453.89" x2="240.80" y2="453.89" stroke="#444" stroke-width="0.7" />
<line x1="238.80" y1="452.79" x2="240.80" y2="452.79" stroke="#444" stroke-width="0.7" />
<line x1="237.00" y1="451.80" x2="240.80" y2="451.80" stroke="#222" stroke-width="1.1" />
<line x1="240.80" y1="559.60" x2="312.80" y2="559.60" stroke="#222" stroke-width="1.2" />
<line x1="240.80" y1="559.60" x2="240.80" y2="562.60" stroke="#222" stroke-width="1.1" />
<text x="240.80" y="576.70" font-size="10.8" text-anchor="middle" font-weight="normal" fill="#111" stroke="#111" stroke-width="0.2" >0</text>
<line x1="258.76" y1="559.60" x2="258.76" y2="562.60" stroke="#222" stroke-width="1.1" />
<text x="258.76" y="576.70" font-size="10.8" text-anchor="middle" font-weight="normal" fill="#111" stroke="#111" stroke-width="0.2" >2</text>
<line x1="276.72" y1="559.60" x2="276.72" y2="562.60" stroke="#222" stroke-width="1.1" />
<text x="276.72" y="576.70" font-size="10.8" text-anchor="middle" font-weight="normal" fill="#111" stroke="#111" stroke-width="0.2" >4</text>
<line x1="294.68" y1="559.60" x2="294.68" y2="562.60" stroke="#222" stroke-width="1.1" />
<text x="294.68" y="576.70" font-size="10.8" text-anchor="middle" font-weight="normal" fill="#111" stroke="#111" stroke-width="0.2" >6</text>
<line x1="312.64" y1="559.60" x2="312.64" y2="562.60" stroke="#222" stroke-width="1.1" />
<text x="312.64" y="576.70" font-size="10.8" text-anchor="middle" font-weight="normal" fill="#111" stroke="#111" stroke-width="0.2" >8</text>
<path d="M249.78,538.39 L258.76,523.16 L267.74,521.55" fill="none" stroke="#f08a22" stroke-width="0.9" />
<path d="M249.78,538.39 L258.76,528.47 L267.74,531.47" fill="none" stroke="#f08a22" stroke-width="0.9" />
<path d="M249.78,538.39 L258.76,532.62 L267.74,539.55" fill="none" stroke="#f08a22" stroke-width="0.9" />
<path d="M249.78,538.39 L258.76,536.55 L267.74,544.62" fill="none" stroke="#f08a22" stroke-width="0.9" />
<path d="M249.78,538.39 L258.76,540.70 L267.74,552.70" fill="none" stroke="#f08a22" stroke-width="0.9" />
<rect x="247.48" y="536.09" width="4.60" height="4.60" rx="0" fill="#fcd0a4" stroke="#f2a45c" stroke-width="0.8" />
<rect x="256.46" y="520.86" width="4.60" height="4.60" rx="0" fill="#fcd0a4" stroke="#f2a45c" stroke-width="0.8" />
<rect x="265.44" y="519.25" width="4.60" height="4.60" rx="0" fill="#fcd0a4" stroke="#f2a45c" stroke-width="0.8" />
<rect x="256.46" y="526.17" width="4.60" height="4.60" rx="0" fill="#fcd0a4" stroke="#f2a45c" stroke-width="0.8" />
<rect x="265.44" y="529.17" width="4.60" height="4.60" rx="0" fill="#fcd0a4" stroke="#f2a45c" stroke-width="0.8" />
<rect x="256.46" y="530.32" width="4.60" height="4.60" rx="0" fill="#fcd0a4" stroke="#f2a45c" stroke-width="0.8" />
<rect x="265.44" y="537.25" width="4.60" height="4.60" rx="0" fill="#fcd0a4" stroke="#f2a45c" stroke-width="0.8" />
<rect x="256.46" y="534.25" width="4.60" height="4.60" rx="0" fill="#fcd0a4" stroke="#f2a45c" stroke-width="0.8" />
<rect x="265.44" y="542.32" width="4.60" height="4.60" rx="0" fill="#fcd0a4" stroke="#f2a45c" stroke-width="0.8" />
<rect x="256.46" y="538.40" width="4.60" height="4.60" rx="0" fill="#fcd0a4" stroke="#f2a45c" stroke-width="0.8" />
<rect x="265.44" y="550.40" width="4.60" height="4.60" rx="0" fill="#fcd0a4" stroke="#f2a45c" stroke-width="0.8" />
<text x="318.20" y="433.80" font-size="12.3" text-anchor="start" font-weight="bold" fill="#111"  >vi.</text>
<text x="336.80" y="430.20" font-size="8.8" text-anchor="start" font-weight="normal" fill="#111" stroke="#111" stroke-width="0.2" textLength="27" lengthAdjust="spacingAndGlyphs">CD8tm</text>
<text x="364.00" y="435.20" font-size="13.4" text-anchor="start" font-weight="normal" fill="#111" stroke="#111" stroke-width="0.2" >BB.<tspan font-style="italic">ζ</tspan></text>
<line x1="328.50" y1="451.80" x2="328.50" y2="562.60" stroke="#222" stroke-width="1.2" />
<line x1="324.70" y1="559.60" x2="328.50" y2="559.60" stroke="#222" stroke-width="1.1" />
<line x1="326.50" y1="553.11" x2="328.50" y2="553.11" stroke="#444" stroke-width="0.7" />
<line x1="326.50" y1="549.31" x2="328.50" y2="549.31" stroke="#444" stroke-width="0.7" />
<line x1="326.50" y1="546.62" x2="328.50" y2="546.62" stroke="#444" stroke-width="0.7" />
<line x1="326.50" y1="544.53" x2="328.50" y2="544.53" stroke="#444" stroke-width="0.7" />
<line x1="326.50" y1="542.82" x2="328.50" y2="542.82" stroke="#444" stroke-width="0.7" />
<line x1="326.50" y1="541.38" x2="328.50" y2="541.38" stroke="#444" stroke-width="0.7" />
<line x1="326.50" y1="540.13" x2="328.50" y2="540.13" stroke="#444" stroke-width="0.7" />
<line x1="326.50" y1="539.03" x2="328.50" y2="539.03" stroke="#444" stroke-width="0.7" />
<line x1="324.70" y1="538.04" x2="328.50" y2="538.04" stroke="#222" stroke-width="1.1" />
<line x1="326.50" y1="531.55" x2="328.50" y2="531.55" stroke="#444" stroke-width="0.7" />
<line x1="326.50" y1="527.75" x2="328.50" y2="527.75" stroke="#444" stroke-width="0.7" />
<line x1="326.50" y1="525.06" x2="328.50" y2="525.06" stroke="#444" stroke-width="0.7" />
<line x1="326.50" y1="522.97" x2="328.50" y2="522.97" stroke="#444" stroke-width="0.7" />
<line x1="326.50" y1="521.26" x2="328.50" y2="521.26" stroke="#444" stroke-width="0.7" />
<line x1="326.50" y1="519.82" x2="328.50" y2="519.82" stroke="#444" stroke-width="0.7" />
<line x1="326.50" y1="518.57" x2="328.50" y2="518.57" stroke="#444" stroke-width="0.7" />
<line x1="326.50" y1="517.47" x2="328.50" y2="517.47" stroke="#444" stroke-width="0.7" />
<line x1="324.70" y1="516.48" x2="328.50" y2="516.48" stroke="#222" stroke-width="1.1" />
<line x1="326.50" y1="509.99" x2="328.50" y2="509.99" stroke="#444" stroke-width="0.7" />
<line x1="326.50" y1="506.19" x2="328.50" y2="506.19" stroke="#444" stroke-width="0.7" />
<line x1="326.50" y1="503.50" x2="328.50" y2="503.50" stroke="#444" stroke-width="0.7" />
<line x1="326.50" y1="501.41" x2="328.50" y2="501.41" stroke="#444" stroke-width="0.7" />
<line x1="326.50" y1="499.70" x2="328.50" y2="499.70" stroke="#444" stroke-width="0.7" />
<line x1="326.50" y1="498.26" x2="328.50" y2="498.26" stroke="#444" stroke-width="0.7" />
<line x1="326.50" y1="497.01" x2="328.50" y2="497.01" stroke="#444" stroke-width="0.7" />
<line x1="326.50" y1="495.91" x2="328.50" y2="495.91" stroke="#444" stroke-width="0.7" />
<line x1="324.70" y1="494.92" x2="328.50" y2="494.92" stroke="#222" stroke-width="1.1" />
<line x1="326.50" y1="488.43" x2="328.50" y2="488.43" stroke="#444" stroke-width="0.7" />
<line x1="326.50" y1="484.63" x2="328.50" y2="484.63" stroke="#444" stroke-width="0.7" />
<line x1="326.50" y1="481.94" x2="328.50" y2="481.94" stroke="#444" stroke-width="0.7" />
<line x1="326.50" y1="479.85" x2="328.50" y2="479.85" stroke="#444" stroke-width="0.7" />
<line x1="326.50" y1="478.14" x2="328.50" y2="478.14" stroke="#444" stroke-width="0.7" />
<line x1="326.50" y1="476.70" x2="328.50" y2="476.70" stroke="#444" stroke-width="0.7" />
<line x1="326.50" y1="475.45" x2="328.50" y2="475.45" stroke="#444" stroke-width="0.7" />
<line x1="326.50" y1="474.35" x2="328.50" y2="474.35" stroke="#444" stroke-width="0.7" />
<line x1="324.70" y1="473.36" x2="328.50" y2="473.36" stroke="#222" stroke-width="1.1" />
<line x1="326.50" y1="466.87" x2="328.50" y2="466.87" stroke="#444" stroke-width="0.7" />
<line x1="326.50" y1="463.07" x2="328.50" y2="463.07" stroke="#444" stroke-width="0.7" />
<line x1="326.50" y1="460.38" x2="328.50" y2="460.38" stroke="#444" stroke-width="0.7" />
<line x1="326.50" y1="458.29" x2="328.50" y2="458.29" stroke="#444" stroke-width="0.7" />
<line x1="326.50" y1="456.58" x2="328.50" y2="456.58" stroke="#444" stroke-width="0.7" />
<line x1="326.50" y1="455.14" x2="328.50" y2="455.14" stroke="#444" stroke-width="0.7" />
<line x1="326.50" y1="453.89" x2="328.50" y2="453.89" stroke="#444" stroke-width="0.7" />
<line x1="326.50" y1="452.79" x2="328.50" y2="452.79" stroke="#444" stroke-width="0.7" />
<line x1="324.70" y1="451.80" x2="328.50" y2="451.80" stroke="#222" stroke-width="1.1" />
<line x1="328.50" y1="559.60" x2="400.20" y2="559.60" stroke="#222" stroke-width="1.2" />
<line x1="328.50" y1="559.60" x2="328.50" y2="562.60" stroke="#222" stroke-width="1.1" />
<text x="328.50" y="576.70" font-size="10.8" text-anchor="middle" font-weight="normal" fill="#111" stroke="#111" stroke-width="0.2" >0</text>
<line x1="346.38" y1="559.60" x2="346.38" y2="562.60" stroke="#222" stroke-width="1.1" />
<text x="346.38" y="576.70" font-size="10.8" text-anchor="middle" font-weight="normal" fill="#111" stroke="#111" stroke-width="0.2" >2</text>
<line x1="364.26" y1="559.60" x2="364.26" y2="562.60" stroke="#222" stroke-width="1.1" />
<text x="364.26" y="576.70" font-size="10.8" text-anchor="middle" font-weight="normal" fill="#111" stroke="#111" stroke-width="0.2" >4</text>
<line x1="382.14" y1="559.60" x2="382.14" y2="562.60" stroke="#222" stroke-width="1.1" />
<text x="382.14" y="576.70" font-size="10.8" text-anchor="middle" font-weight="normal" fill="#111" stroke="#111" stroke-width="0.2" >6</text>
<line x1="400.02" y1="559.60" x2="400.02" y2="562.60" stroke="#222" stroke-width="1.1" />
<text x="400.02" y="576.70" font-size="10.8" text-anchor="middle" font-weight="normal" fill="#111" stroke="#111" stroke-width="0.2" >8</text>
<path d="M337.44,538.39 L346.38,523.39 L355.32,510.47 L364.26,496.16 L373.20,493.39 L382.14,481.85 L391.08,473.54" fill="none" stroke="#e8701e" stroke-width="0.9" />
<path d="M337.44,538.39 L346.38,526.16 L355.32,514.16 L364.26,500.31 L373.20,497.31 L382.14,481.85 L391.08,484.16" fill="none" stroke="#e8701e" stroke-width="0.9" />
<path d="M337.44,538.39 L346.38,526.16 L355.32,514.16 L364.26,500.31 L373.20,501.24 L382.14,492.01 L391.08,496.16" fill="none" stroke="#e8701e" stroke-width="0.9" />
<path d="M337.44,538.39 L346.38,530.32 L355.32,518.78 L364.26,505.39 L373.20,501.24 L382.14,500.31" fill="none" stroke="#e8701e" stroke-width="0.9" />
<path d="M337.44,538.39 L346.38,530.32 L355.32,518.78 L364.26,513.47 L373.20,512.31" fill="none" stroke="#e8701e" stroke-width="0.9" />
<path d="M337.44,538.39 L346.38,534.93 L355.32,526.62 L364.26,521.08 L373.20,522.24" fill="none" stroke="#e8701e" stroke-width="0.9" />
<path d="M337.44,538.39 L346.38,534.93 L355.32,533.55 L364.26,534.24 L373.20,544.62" fill="none" stroke="#e8701e" stroke-width="0.9" />
<rect x="335.14" y="536.09" width="4.60" height="4.60" rx="0" fill="#f06a14" stroke="#e25e0c" stroke-width="0.8" />
<rect x="344.08" y="521.09" width="4.60" height="4.60" rx="0" fill="#f06a14" stroke="#e25e0c" stroke-width="0.8" />
<rect x="353.02" y="508.17" width="4.60" height="4.60" rx="0" fill="#f06a14" stroke="#e25e0c" stroke-width="0.8" />
<rect x="361.96" y="493.86" width="4.60" height="4.60" rx="0" fill="#f06a14" stroke="#e25e0c" stroke-width="0.8" />
<rect x="370.90" y="491.09" width="4.60" height="4.60" rx="0" fill="#f06a14" stroke="#e25e0c" stroke-width="0.8" />
<rect x="379.84" y="479.55" width="4.60" height="4.60" rx="0" fill="#f06a14" stroke="#e25e0c" stroke-width="0.8" />
<rect x="388.78" y="471.24" width="4.60" height="4.60" rx="0" fill="#f06a14" stroke="#e25e0c" stroke-width="0.8" />
<rect x="344.08" y="523.86" width="4.60" height="4.60" rx="0" fill="#f06a14" stroke="#e25e0c" stroke-width="0.8" />
<rect x="353.02" y="511.86" width="4.60" height="4.60" rx="0" fill="#f06a14" stroke="#e25e0c" stroke-width="0.8" />
<rect x="361.96" y="498.01" width="4.60" height="4.60" rx="0" fill="#f06a14" stroke="#e25e0c" stroke-width="0.8" />
<rect x="370.90" y="495.01" width="4.60" height="4.60" rx="0" fill="#f06a14" stroke="#e25e0c" stroke-width="0.8" />
<rect x="388.78" y="481.86" width="4.60" height="4.60" rx="0" fill="#f06a14" stroke="#e25e0c" stroke-width="0.8" />
<rect x="370.90" y="498.94" width="4.60" height="4.60" rx="0" fill="#f06a14" stroke="#e25e0c" stroke-width="0.8" />
<rect x="379.84" y="489.71" width="4.60" height="4.60" rx="0" fill="#f06a14" stroke="#e25e0c" stroke-width="0.8" />
<rect x="388.78" y="493.86" width="4.60" height="4.60" rx="0" fill="#f06a14" stroke="#e25e0c" stroke-width="0.8" />
<rect x="344.08" y="528.02" width="4.60" height="4.60" rx="0" fill="#f06a14" stroke="#e25e0c" stroke-width="0.8" />
<rect x="353.02" y="516.48" width="4.60" height="4.60" rx="0" fill="#f06a14" stroke="#e25e0c" stroke-width="0.8" />
<rect x="361.96" y="503.09" width="4.60" height="4.60" rx="0" fill="#f06a14" stroke="#e25e0c" stroke-width="0.8" />
<rect x="379.84" y="498.01" width="4.60" height="4.60" rx="0" fill="#f06a14" stroke="#e25e0c" stroke-width="0.8" />
<rect x="361.96" y="511.17" width="4.60" height="4.60" rx="0" fill="#f06a14" stroke="#e25e0c" stroke-width="0.8" />
<rect x="370.90" y="510.01" width="4.60" height="4.60" rx="0" fill="#f06a14" stroke="#e25e0c" stroke-width="0.8" />
<rect x="344.08" y="532.63" width="4.60" height="4.60" rx="0" fill="#f06a14" stroke="#e25e0c" stroke-width="0.8" />
<rect x="353.02" y="524.32" width="4.60" height="4.60" rx="0" fill="#f06a14" stroke="#e25e0c" stroke-width="0.8" />
<rect x="361.96" y="518.78" width="4.60" height="4.60" rx="0" fill="#f06a14" stroke="#e25e0c" stroke-width="0.8" />
<rect x="370.90" y="519.94" width="4.60" height="4.60" rx="0" fill="#f06a14" stroke="#e25e0c" stroke-width="0.8" />
<rect x="353.02" y="531.25" width="4.60" height="4.60" rx="0" fill="#f06a14" stroke="#e25e0c" stroke-width="0.8" />
<rect x="361.96" y="531.94" width="4.60" height="4.60" rx="0" fill="#f06a14" stroke="#e25e0c" stroke-width="0.8" />
<rect x="370.90" y="542.32" width="4.60" height="4.60" rx="0" fill="#f06a14" stroke="#e25e0c" stroke-width="0.8" />
<text x="418.00" y="435.00" font-size="12.3" text-anchor="start" font-weight="bold" fill="#111"  >vii.</text>
<text x="437.60" y="435.70" font-size="13.6" text-anchor="start" font-weight="normal" fill="#111" stroke="#111" stroke-width="0.2" >BBL-28.<tspan font-style="italic">mζ</tspan></text>
<line x1="433.50" y1="451.80" x2="433.50" y2="481.00" stroke="#222" stroke-width="1.2" />
<line x1="433.50" y1="494.00" x2="433.50" y2="562.60" stroke="#222" stroke-width="1.2" />
<line x1="429.00" y1="476.90" x2="437.40" y2="484.00" stroke="#222" stroke-width="1.0" />
<line x1="429.00" y1="489.60" x2="437.40" y2="497.00" stroke="#222" stroke-width="1.0" />
<line x1="429.70" y1="451.80" x2="433.50" y2="451.80" stroke="#222" stroke-width="1.1" />
<line x1="429.70" y1="480.00" x2="433.50" y2="480.00" stroke="#222" stroke-width="1.1" />
<line x1="431.30" y1="457.50" x2="433.50" y2="457.50" stroke="#222" stroke-width="0.9" />
<line x1="431.30" y1="463.20" x2="433.50" y2="463.20" stroke="#222" stroke-width="0.9" />
<line x1="431.30" y1="468.90" x2="433.50" y2="468.90" stroke="#222" stroke-width="0.9" />
<line x1="431.30" y1="474.60" x2="433.50" y2="474.60" stroke="#222" stroke-width="0.9" />
<line x1="431.30" y1="498.50" x2="433.50" y2="498.50" stroke="#222" stroke-width="0.9" />
<line x1="431.30" y1="503.00" x2="433.50" y2="503.00" stroke="#222" stroke-width="0.9" />
<line x1="431.30" y1="507.50" x2="433.50" y2="507.50" stroke="#222" stroke-width="0.9" />
<line x1="431.30" y1="512.00" x2="433.50" y2="512.00" stroke="#222" stroke-width="0.9" />
<line x1="431.30" y1="516.50" x2="433.50" y2="516.50" stroke="#222" stroke-width="0.9" />
<line x1="431.30" y1="521.00" x2="433.50" y2="521.00" stroke="#222" stroke-width="0.9" />
<line x1="431.30" y1="525.50" x2="433.50" y2="525.50" stroke="#222" stroke-width="0.9" />
<line x1="431.30" y1="530.00" x2="433.50" y2="530.00" stroke="#222" stroke-width="0.9" />
<line x1="431.30" y1="534.50" x2="433.50" y2="534.50" stroke="#222" stroke-width="0.9" />
<line x1="431.30" y1="539.00" x2="433.50" y2="539.00" stroke="#222" stroke-width="0.9" />
<line x1="431.30" y1="543.50" x2="433.50" y2="543.50" stroke="#222" stroke-width="0.9" />
<line x1="431.30" y1="548.00" x2="433.50" y2="548.00" stroke="#222" stroke-width="0.9" />
<line x1="431.30" y1="552.50" x2="433.50" y2="552.50" stroke="#222" stroke-width="0.9" />
<line x1="431.30" y1="557.00" x2="433.50" y2="557.00" stroke="#222" stroke-width="0.9" />
<line x1="429.70" y1="516.80" x2="433.50" y2="516.80" stroke="#222" stroke-width="1.1" />
<line x1="429.70" y1="534.20" x2="433.50" y2="534.20" stroke="#222" stroke-width="1.1" />
<line x1="429.70" y1="551.60" x2="433.50" y2="551.60" stroke="#222" stroke-width="1.1" />
<text x="428.6" y="458.4" font-size="11.6" text-anchor="end" fill="#111">10<tspan font-size="7.6" dy="-4.6">9</tspan></text>
<text x="428.6" y="486.4" font-size="11.6" text-anchor="end" fill="#111">10<tspan font-size="7.6" dy="-4.6">4</tspan></text>
<line x1="433.50" y1="559.60" x2="469.20" y2="559.60" stroke="#222" stroke-width="1.2" />
<line x1="469.20" y1="555.80" x2="469.20" y2="563.20" stroke="#222" stroke-width="1.1" />
<line x1="451.30" y1="559.60" x2="451.30" y2="562.60" stroke="#222" stroke-width="1.1" />
<line x1="481.00" y1="559.60" x2="505.00" y2="559.60" stroke="#222" stroke-width="1.2" />
<line x1="481.00" y1="555.80" x2="481.00" y2="563.20" stroke="#222" stroke-width="1.1" />
<line x1="505.00" y1="559.60" x2="505.00" y2="562.60" stroke="#222" stroke-width="1.1" />
<text x="433.50" y="576.70" font-size="10.8" text-anchor="middle" font-weight="normal" fill="#111" stroke="#111" stroke-width="0.2" >0</text>
<text x="451.00" y="576.70" font-size="10.8" text-anchor="middle" font-weight="normal" fill="#111" stroke="#111" stroke-width="0.2" >4</text>
<text x="469.00" y="576.70" font-size="10.8" text-anchor="middle" font-weight="normal" fill="#111" stroke="#111" stroke-width="0.2" >8</text>
<text x="481.30" y="576.70" font-size="10.8" text-anchor="middle" font-weight="normal" fill="#111" stroke="#111" stroke-width="0.2" >8</text>
<text x="505.00" y="576.70" font-size="10.8" text-anchor="middle" font-weight="normal" fill="#111" stroke="#111" stroke-width="0.2" >16</text>
<path d="M437.30,546.10 L442.00,540.70 L446.30,532.20 L450.60,522.10 L455.30,512.60 L459.60,506.70 L464.40,504.60 L469.20,504.00" fill="none" stroke="#c344e6" stroke-width="0.9" />
<path d="M437.30,546.10 L442.00,537.60 L446.30,528.50 L450.60,517.90 L455.30,508.30 L459.60,498.70 L464.40,498.70" fill="none" stroke="#c344e6" stroke-width="0.9" />
<path d="M442.00,543.40 L446.30,535.40 L450.60,525.30 L455.30,515.70 L459.60,510.40 L464.40,512.60 L469.20,512.60" fill="none" stroke="#c344e6" stroke-width="0.9" />
<path d="M450.60,528.50 L455.30,521.00 L459.60,514.70 L464.40,516.80 L469.20,516.80" fill="none" stroke="#c344e6" stroke-width="0.9" />
<path d="M464.40,480.10 L469.20,478.50" fill="none" stroke="#c344e6" stroke-width="0.9" />
<path d="M484.00,474.50 L487.20,472.90 L489.50,468.90 L491.90,460.10 L495.10,457.00" fill="none" stroke="#c344e6" stroke-width="0.9" />
<path d="M484.00,471.30 L489.50,464.10 L495.10,465.70" fill="none" stroke="#c344e6" stroke-width="0.9" />
<path d="M484.00,516.70 L489.50,515.10" fill="none" stroke="#c344e6" stroke-width="0.9" />
<path d="M484.00,513.50 L489.50,508.00 L493.50,499.20" fill="none" stroke="#c344e6" stroke-width="0.9" />
<path d="M484.00,510.30 L487.20,500.80 L491.90,496.80" fill="none" stroke="#c344e6" stroke-width="0.9" />
<path d="M484.00,500.80 L487.20,497.60 L489.50,497.60" fill="none" stroke="#c344e6" stroke-width="0.9" />
<path d="M469.20,478.50 L484.00,471.30" fill="none" stroke="#c344e6" stroke-width="0.9" stroke-dasharray="2 1.3"/>
<path d="M469.20,480.50 L484.00,474.50" fill="none" stroke="#c344e6" stroke-width="0.9" stroke-dasharray="2 1.3"/>
<path d="M464.40,480.10 L459.60,498.70" fill="none" stroke="#c344e6" stroke-width="0.9" stroke-dasharray="2 1.3"/>
<path d="M469.20,478.50 L464.40,498.70" fill="none" stroke="#c344e6" stroke-width="0.9" stroke-dasharray="2 1.3"/>
<path d="M469.20,504.00 L484.00,500.80" fill="none" stroke="#c344e6" stroke-width="0.9" stroke-dasharray="2 1.3"/>
<path d="M469.20,512.60 L484.00,510.30" fill="none" stroke="#c344e6" stroke-width="0.9" stroke-dasharray="2 1.3"/>
<path d="M469.20,516.80 L484.00,516.70" fill="none" stroke="#c344e6" stroke-width="0.9" stroke-dasharray="2 1.3"/>
<rect x="435.00" y="543.80" width="4.60" height="4.60" rx="0" fill="#dc96f8" stroke="#c05cf0" stroke-width="0.8" />
<rect x="439.70" y="541.10" width="4.60" height="4.60" rx="0" fill="#dc96f8" stroke="#c05cf0" stroke-width="0.8" />
<rect x="439.70" y="538.40" width="4.60" height="4.60" rx="0" fill="#dc96f8" stroke="#c05cf0" stroke-width="0.8" />
<rect x="439.70" y="535.30" width="4.60" height="4.60" rx="0" fill="#dc96f8" stroke="#c05cf0" stroke-width="0.8" />
<rect x="444.00" y="533.10" width="4.60" height="4.60" rx="0" fill="#dc96f8" stroke="#c05cf0" stroke-width="0.8" />
<rect x="444.00" y="529.90" width="4.60" height="4.60" rx="0" fill="#dc96f8" stroke="#c05cf0" stroke-width="0.8" />
<rect x="444.00" y="526.20" width="4.60" height="4.60" rx="0" fill="#dc96f8" stroke="#c05cf0" stroke-width="0.8" />
<rect x="448.30" y="526.20" width="4.60" height="4.60" rx="0" fill="#dc96f8" stroke="#c05cf0" stroke-width="0.8" />
<rect x="448.30" y="523.00" width="4.60" height="4.60" rx="0" fill="#dc96f8" stroke="#c05cf0" stroke-width="0.8" />
<rect x="448.30" y="519.80" width="4.60" height="4.60" rx="0" fill="#dc96f8" stroke="#c05cf0" stroke-width="0.8" />
<rect x="448.30" y="515.60" width="4.60" height="4.60" rx="0" fill="#dc96f8" stroke="#c05cf0" stroke-width="0.8" />
<rect x="453.00" y="518.70" width="4.60" height="4.60" rx="0" fill="#dc96f8" stroke="#c05cf0" stroke-width="0.8" />
<rect x="453.00" y="513.40" width="4.60" height="4.60" rx="0" fill="#dc96f8" stroke="#c05cf0" stroke-width="0.8" />
<rect x="453.00" y="510.30" width="4.60" height="4.60" rx="0" fill="#dc96f8" stroke="#c05cf0" stroke-width="0.8" />
<rect x="453.00" y="506.00" width="4.60" height="4.60" rx="0" fill="#dc96f8" stroke="#c05cf0" stroke-width="0.8" />
<rect x="457.30" y="512.40" width="4.60" height="4.60" rx="0" fill="#dc96f8" stroke="#c05cf0" stroke-width="0.8" />
<rect x="457.30" y="508.10" width="4.60" height="4.60" rx="0" fill="#dc96f8" stroke="#c05cf0" stroke-width="0.8" />
<rect x="457.30" y="504.40" width="4.60" height="4.60" rx="0" fill="#dc96f8" stroke="#c05cf0" stroke-width="0.8" />
<rect x="457.30" y="496.40" width="4.60" height="4.60" rx="0" fill="#dc96f8" stroke="#c05cf0" stroke-width="0.8" />
<rect x="462.10" y="514.50" width="4.60" height="4.60" rx="0" fill="#dc96f8" stroke="#c05cf0" stroke-width="0.8" />
<rect x="462.10" y="510.30" width="4.60" height="4.60" rx="0" fill="#dc96f8" stroke="#c05cf0" stroke-width="0.8" />
<rect x="462.10" y="502.30" width="4.60" height="4.60" rx="0" fill="#dc96f8" stroke="#c05cf0" stroke-width="0.8" />
<rect x="462.10" y="496.40" width="4.60" height="4.60" rx="0" fill="#dc96f8" stroke="#c05cf0" stroke-width="0.8" />
<rect x="466.90" y="514.50" width="4.60" height="4.60" rx="0" fill="#dc96f8" stroke="#c05cf0" stroke-width="0.8" />
<rect x="466.90" y="510.30" width="4.60" height="4.60" rx="0" fill="#dc96f8" stroke="#c05cf0" stroke-width="0.8" />
<rect x="466.90" y="501.70" width="4.60" height="4.60" rx="0" fill="#dc96f8" stroke="#c05cf0" stroke-width="0.8" />
<rect x="462.10" y="477.80" width="4.60" height="4.60" rx="0" fill="#dc96f8" stroke="#c05cf0" stroke-width="0.8" />
<rect x="466.90" y="476.20" width="4.60" height="4.60" rx="0" fill="#dc96f8" stroke="#c05cf0" stroke-width="0.8" />
<rect x="481.70" y="472.20" width="4.60" height="4.60" rx="0" fill="#dc96f8" stroke="#c05cf0" stroke-width="0.8" />
<rect x="481.70" y="469.00" width="4.60" height="4.60" rx="0" fill="#dc96f8" stroke="#c05cf0" stroke-width="0.8" />
<rect x="484.90" y="470.60" width="4.60" height="4.60" rx="0" fill="#dc96f8" stroke="#c05cf0" stroke-width="0.8" />
<rect x="487.20" y="466.60" width="4.60" height="4.60" rx="0" fill="#dc96f8" stroke="#c05cf0" stroke-width="0.8" />
<rect x="487.20" y="461.80" width="4.60" height="4.60" rx="0" fill="#dc96f8" stroke="#c05cf0" stroke-width="0.8" />
<rect x="489.60" y="457.80" width="4.60" height="4.60" rx="0" fill="#dc96f8" stroke="#c05cf0" stroke-width="0.8" />
<rect x="492.80" y="454.70" width="4.60" height="4.60" rx="0" fill="#dc96f8" stroke="#c05cf0" stroke-width="0.8" />
<rect x="492.80" y="463.40" width="4.60" height="4.60" rx="0" fill="#dc96f8" stroke="#c05cf0" stroke-width="0.8" />
<rect x="481.70" y="514.40" width="4.60" height="4.60" rx="0" fill="#dc96f8" stroke="#c05cf0" stroke-width="0.8" />
<rect x="481.70" y="511.20" width="4.60" height="4.60" rx="0" fill="#dc96f8" stroke="#c05cf0" stroke-width="0.8" />
<rect x="481.70" y="508.00" width="4.60" height="4.60" rx="0" fill="#dc96f8" stroke="#c05cf0" stroke-width="0.8" />
<rect x="481.70" y="498.50" width="4.60" height="4.60" rx="0" fill="#dc96f8" stroke="#c05cf0" stroke-width="0.8" />
<rect x="484.90" y="495.30" width="4.60" height="4.60" rx="0" fill="#dc96f8" stroke="#c05cf0" stroke-width="0.8" />
<rect x="484.90" y="498.50" width="4.60" height="4.60" rx="0" fill="#dc96f8" stroke="#c05cf0" stroke-width="0.8" />
<rect x="487.20" y="512.80" width="4.60" height="4.60" rx="0" fill="#dc96f8" stroke="#c05cf0" stroke-width="0.8" />
<rect x="487.20" y="505.70" width="4.60" height="4.60" rx="0" fill="#dc96f8" stroke="#c05cf0" stroke-width="0.8" />
<rect x="487.20" y="495.30" width="4.60" height="4.60" rx="0" fill="#dc96f8" stroke="#c05cf0" stroke-width="0.8" />
<rect x="489.60" y="494.50" width="4.60" height="4.60" rx="0" fill="#dc96f8" stroke="#c05cf0" stroke-width="0.8" />
<rect x="491.20" y="496.90" width="4.60" height="4.60" rx="0" fill="#dc96f8" stroke="#c05cf0" stroke-width="0.8" />
<line x1="45.00" y1="582.40" x2="234.50" y2="582.40" stroke="#8c8c8c" stroke-width="1.3" />
<line x1="313.80" y1="582.40" x2="504.60" y2="582.40" stroke="#8c8c8c" stroke-width="1.3" />
<text x="274.30" y="588.20" font-size="12" text-anchor="middle" font-weight="normal" fill="#111" stroke="#111" stroke-width="0.2" >Stimulation</text>
<text x="33.00" y="616.60" font-size="11" text-anchor="start" font-weight="bold" fill="#111"  >D</text>
<line x1="111.50" y1="627.10" x2="111.50" y2="748.60" stroke="#222" stroke-width="1.2" />
<line x1="110.90" y1="748.00" x2="193.30" y2="748.00" stroke="#222" stroke-width="1.2" />
<line x1="108.90" y1="748.90" x2="111.50" y2="748.90" stroke="#222" stroke-width="1.0" />
<line x1="109.70" y1="743.03" x2="111.50" y2="743.03" stroke="#222" stroke-width="0.8" />
<line x1="109.70" y1="739.33" x2="111.50" y2="739.33" stroke="#222" stroke-width="0.8" />
<line x1="107.70" y1="736.60" x2="111.50" y2="736.60" stroke="#222" stroke-width="1.1" />
<text x="105.50" y="740.20" font-size="10.4" text-anchor="end" fill="#111">10<tspan font-size="6.8" dy="-4.2">0</tspan></text>
<line x1="109.70" y1="730.73" x2="111.50" y2="730.73" stroke="#222" stroke-width="0.8" />
<line x1="109.70" y1="727.03" x2="111.50" y2="727.03" stroke="#222" stroke-width="0.8" />
<line x1="108.90" y1="724.30" x2="111.50" y2="724.30" stroke="#222" stroke-width="1.0" />
<line x1="109.70" y1="718.43" x2="111.50" y2="718.43" stroke="#222" stroke-width="0.8" />
<line x1="109.70" y1="714.73" x2="111.50" y2="714.73" stroke="#222" stroke-width="0.8" />
<line x1="107.70" y1="712.00" x2="111.50" y2="712.00" stroke="#222" stroke-width="1.1" />
<text x="105.50" y="715.60" font-size="10.4" text-anchor="end" fill="#111">10<tspan font-size="6.8" dy="-4.2">2</tspan></text>
<line x1="109.70" y1="706.13" x2="111.50" y2="706.13" stroke="#222" stroke-width="0.8" />
<line x1="109.70" y1="702.43" x2="111.50" y2="702.43" stroke="#222" stroke-width="0.8" />
<line x1="108.90" y1="699.70" x2="111.50" y2="699.70" stroke="#222" stroke-width="1.0" />
<line x1="109.70" y1="693.83" x2="111.50" y2="693.83" stroke="#222" stroke-width="0.8" />
<line x1="109.70" y1="690.13" x2="111.50" y2="690.13" stroke="#222" stroke-width="0.8" />
<line x1="107.70" y1="687.40" x2="111.50" y2="687.40" stroke="#222" stroke-width="1.1" />
<text x="105.50" y="691.00" font-size="10.4" text-anchor="end" fill="#111">10<tspan font-size="6.8" dy="-4.2">4</tspan></text>
<line x1="109.70" y1="681.53" x2="111.50" y2="681.53" stroke="#222" stroke-width="0.8" />
<line x1="109.70" y1="677.83" x2="111.50" y2="677.83" stroke="#222" stroke-width="0.8" />
<line x1="108.90" y1="675.10" x2="111.50" y2="675.10" stroke="#222" stroke-width="1.0" />
<line x1="109.70" y1="669.23" x2="111.50" y2="669.23" stroke="#222" stroke-width="0.8" />
<line x1="109.70" y1="665.53" x2="111.50" y2="665.53" stroke="#222" stroke-width="0.8" />
<line x1="107.70" y1="662.80" x2="111.50" y2="662.80" stroke="#222" stroke-width="1.1" />
<text x="105.50" y="666.40" font-size="10.4" text-anchor="end" fill="#111">10<tspan font-size="6.8" dy="-4.2">6</tspan></text>
<line x1="109.70" y1="656.93" x2="111.50" y2="656.93" stroke="#222" stroke-width="0.8" />
<line x1="109.70" y1="653.23" x2="111.50" y2="653.23" stroke="#222" stroke-width="0.8" />
<line x1="108.90" y1="650.50" x2="111.50" y2="650.50" stroke="#222" stroke-width="1.0" />
<line x1="109.70" y1="644.63" x2="111.50" y2="644.63" stroke="#222" stroke-width="0.8" />
<line x1="109.70" y1="640.93" x2="111.50" y2="640.93" stroke="#222" stroke-width="0.8" />
<line x1="107.70" y1="638.20" x2="111.50" y2="638.20" stroke="#222" stroke-width="1.1" />
<text x="105.50" y="641.80" font-size="10.4" text-anchor="end" fill="#111">10<tspan font-size="6.8" dy="-4.2">8</tspan></text>
<line x1="109.70" y1="632.33" x2="111.50" y2="632.33" stroke="#222" stroke-width="0.8" />
<line x1="109.70" y1="628.63" x2="111.50" y2="628.63" stroke="#222" stroke-width="0.8" />
<text x="0" y="0" font-size="11.2" text-anchor="middle" fill="#111" transform="translate(82.6,689.3) rotate(-90)">Maximum fold expansion</text>
<circle cx="115.00" cy="738.50" r="1.7" fill="none" stroke="#222" stroke-width="0.9" />
<circle cx="118.00" cy="739.50" r="1.7" fill="none" stroke="#222" stroke-width="0.9" />
<circle cx="116.50" cy="741.50" r="1.7" fill="none" stroke="#222" stroke-width="0.9" />
<circle cx="115.50" cy="743.50" r="1.7" fill="none" stroke="#222" stroke-width="0.9" />
<circle cx="118.00" cy="736.50" r="1.7" fill="none" stroke="#222" stroke-width="0.9" />
<circle cx="116.50" cy="737.50" r="1.7" fill="none" stroke="#222" stroke-width="0.9" />
<circle cx="114.50" cy="740.50" r="1.7" fill="none" stroke="#222" stroke-width="0.9" />
<circle cx="118.50" cy="742.50" r="1.7" fill="none" stroke="#222" stroke-width="0.9" />
<circle cx="124.50" cy="736.50" r="1.8" fill="none" stroke="#909090" stroke-width="0.9" />
<circle cx="127.50" cy="739.00" r="1.8" fill="none" stroke="#909090" stroke-width="0.9" />
<circle cx="126.00" cy="741.50" r="1.8" fill="none" stroke="#909090" stroke-width="0.9" />
<circle cx="125.00" cy="744.00" r="1.8" fill="none" stroke="#909090" stroke-width="0.9" />
<circle cx="128.00" cy="742.50" r="1.8" fill="none" stroke="#909090" stroke-width="0.9" />
<circle cx="124.00" cy="739.50" r="1.8" fill="none" stroke="#909090" stroke-width="0.9" />
<circle cx="126.50" cy="734.50" r="1.8" fill="none" stroke="#909090" stroke-width="0.9" />
<line x1="137.30" y1="691.00" x2="137.30" y2="695.50" stroke="#f0509c" stroke-width="0.9" />
<line x1="137.30" y1="716.60" x2="137.30" y2="727.80" stroke="#f0509c" stroke-width="0.9" />
<rect x="133.90" y="695.50" width="6.80" height="21.10" rx="0" fill="#fbc8e0" stroke="#f0509c" stroke-width="1.0" />
<line x1="133.90" y1="708.00" x2="140.70" y2="708.00" stroke="#f0509c" stroke-width="1.0" />
<circle cx="137.30" cy="691.00" r="1.9" fill="#fde0ee" stroke="#f0509c" stroke-width="0.9" />
<circle cx="137.30" cy="699.50" r="1.9" fill="#fde0ee" stroke="#f0509c" stroke-width="0.9" />
<circle cx="135.80" cy="703.00" r="1.9" fill="#fde0ee" stroke="#f0509c" stroke-width="0.9" />
<circle cx="138.80" cy="706.00" r="1.9" fill="#fde0ee" stroke="#f0509c" stroke-width="0.9" />
<circle cx="137.30" cy="710.00" r="1.9" fill="#fde0ee" stroke="#f0509c" stroke-width="0.9" />
<circle cx="136.30" cy="713.00" r="1.9" fill="#fde0ee" stroke="#f0509c" stroke-width="0.9" />
<circle cx="138.30" cy="716.00" r="1.9" fill="#fde0ee" stroke="#f0509c" stroke-width="0.9" />
<circle cx="137.30" cy="728.70" r="1.9" fill="#fde0ee" stroke="#f0509c" stroke-width="0.9" />
<line x1="147.50" y1="706.00" x2="147.50" y2="706.00" stroke="#d8326e" stroke-width="0.9" />
<line x1="147.50" y1="731.00" x2="147.50" y2="731.00" stroke="#d8326e" stroke-width="0.9" />
<rect x="144.10" y="706.00" width="6.80" height="25.00" rx="0" fill="#fbe4ec" stroke="#d8326e" stroke-width="1.0" />
<line x1="144.10" y1="718.00" x2="150.90" y2="718.00" stroke="#d8326e" stroke-width="1.0" />
<circle cx="146.50" cy="706.00" r="1.9" fill="#dc3c76" stroke="#c82a62" stroke-width="0.9" />
<circle cx="149.00" cy="707.50" r="1.9" fill="#dc3c76" stroke="#c82a62" stroke-width="0.9" />
<circle cx="147.50" cy="713.00" r="1.9" fill="#dc3c76" stroke="#c82a62" stroke-width="0.9" />
<circle cx="147.50" cy="721.00" r="1.9" fill="#dc3c76" stroke="#c82a62" stroke-width="0.9" />
<circle cx="147.50" cy="729.00" r="1.9" fill="#dc3c76" stroke="#c82a62" stroke-width="0.9" />
<circle cx="148.50" cy="731.50" r="1.9" fill="#dc3c76" stroke="#c82a62" stroke-width="0.9" />
<line x1="157.50" y1="698.40" x2="157.50" y2="701.70" stroke="#4a6ef0" stroke-width="0.9" />
<line x1="157.50" y1="728.70" x2="157.50" y2="732.40" stroke="#4a6ef0" stroke-width="0.9" />
<rect x="154.10" y="701.70" width="6.80" height="27.00" rx="0" fill="#d6e2fb" stroke="#4a6ef0" stroke-width="1.0" />
<line x1="154.10" y1="713.00" x2="160.90" y2="713.00" stroke="#4a6ef0" stroke-width="1.0" />
<circle cx="157.50" cy="698.40" r="1.9" fill="#ffffff" stroke="#4a6ef0" stroke-width="0.9" />
<circle cx="157.50" cy="704.00" r="1.9" fill="#ffffff" stroke="#4a6ef0" stroke-width="0.9" />
<circle cx="157.50" cy="710.00" r="1.9" fill="#ffffff" stroke="#4a6ef0" stroke-width="0.9" />
<circle cx="157.50" cy="716.00" r="1.9" fill="#ffffff" stroke="#4a6ef0" stroke-width="0.9" />
<circle cx="157.50" cy="724.00" r="1.9" fill="#ffffff" stroke="#4a6ef0" stroke-width="0.9" />
<circle cx="157.50" cy="732.40" r="1.9" fill="#ffffff" stroke="#4a6ef0" stroke-width="0.9" />
<circle cx="167.20" cy="727.50" r="1.8" fill="#ffffff" stroke="#f8aa66" stroke-width="0.9" />
<circle cx="165.40" cy="730.50" r="1.8" fill="#ffffff" stroke="#f8aa66" stroke-width="0.9" />
<circle cx="169.00" cy="731.00" r="1.8" fill="#ffffff" stroke="#f8aa66" stroke-width="0.9" />
<circle cx="167.20" cy="733.50" r="1.8" fill="#ffffff" stroke="#f8aa66" stroke-width="0.9" />
<circle cx="165.70" cy="736.00" r="1.8" fill="#ffffff" stroke="#f8aa66" stroke-width="0.9" />
<circle cx="168.70" cy="737.00" r="1.8" fill="#ffffff" stroke="#f8aa66" stroke-width="0.9" />
<circle cx="167.20" cy="739.20" r="1.8" fill="#ffffff" stroke="#f8aa66" stroke-width="0.9" />
<line x1="177.70" y1="699.00" x2="177.70" y2="705.80" stroke="#ee7a30" stroke-width="0.9" />
<line x1="177.70" y1="726.00" x2="177.70" y2="733.20" stroke="#ee7a30" stroke-width="0.9" />
<rect x="174.30" y="705.80" width="6.80" height="20.20" rx="0" fill="#fff3ea" stroke="#ee7a30" stroke-width="1.0" />
<line x1="174.30" y1="716.00" x2="181.10" y2="716.00" stroke="#ee7a30" stroke-width="1.0" />
<circle cx="177.70" cy="699.00" r="1.9" fill="#f06a14" stroke="#e05e0c" stroke-width="0.9" />
<circle cx="177.70" cy="706.00" r="1.9" fill="#f06a14" stroke="#e05e0c" stroke-width="0.9" />
<circle cx="177.70" cy="712.00" r="1.9" fill="#f06a14" stroke="#e05e0c" stroke-width="0.9" />
<circle cx="177.70" cy="718.00" r="1.9" fill="#f06a14" stroke="#e05e0c" stroke-width="0.9" />
<circle cx="177.70" cy="724.00" r="1.9" fill="#f06a14" stroke="#e05e0c" stroke-width="0.9" />
<circle cx="177.70" cy="733.20" r="1.9" fill="#f06a14" stroke="#e05e0c" stroke-width="0.9" />
<line x1="187.90" y1="637.10" x2="187.90" y2="657.70" stroke="#b948ee" stroke-width="0.9" />
<line x1="187.90" y1="698.00" x2="187.90" y2="702.00" stroke="#b948ee" stroke-width="0.9" />
<rect x="184.50" y="657.70" width="6.80" height="40.30" rx="0" fill="#d688f6" stroke="#b948ee" stroke-width="1.0" />
<line x1="184.50" y1="676.30" x2="191.30" y2="676.30" stroke="#b948ee" stroke-width="1.0" />
<circle cx="187.90" cy="637.10" r="1.9" fill="#dc98f8" stroke="#b040ec" stroke-width="0.9" />
<circle cx="187.90" cy="657.70" r="1.9" fill="#dc98f8" stroke="#b040ec" stroke-width="0.9" />
<circle cx="187.90" cy="662.50" r="1.9" fill="#dc98f8" stroke="#b040ec" stroke-width="0.9" />
<circle cx="187.90" cy="672.50" r="1.9" fill="#dc98f8" stroke="#b040ec" stroke-width="0.9" />
<circle cx="189.40" cy="690.00" r="1.9" fill="#dc98f8" stroke="#b040ec" stroke-width="0.9" />
<circle cx="186.90" cy="693.50" r="1.9" fill="#dc98f8" stroke="#b040ec" stroke-width="0.9" />
<circle cx="186.90" cy="700.50" r="1.9" fill="#dc98f8" stroke="#b040ec" stroke-width="0.9" />
<circle cx="189.40" cy="699.50" r="1.9" fill="#dc98f8" stroke="#b040ec" stroke-width="0.9" />
<path d="M116.50,728.40 V725.20 H127.30 V728.40" fill="none" stroke="#333" stroke-width="0.9" />
<text x="122.00" y="723.90" font-size="9.8" text-anchor="middle" font-weight="normal" fill="#111" stroke="#111" stroke-width="0.2" >ns</text>
<path d="M137.40,687.40 V684.20 H158.90 V687.40" fill="none" stroke="#333" stroke-width="0.9" />
<line x1="148.20" y1="684.20" x2="148.20" y2="687.40" stroke="#333" stroke-width="0.9" />
<text x="148.20" y="682.60" font-size="9.8" text-anchor="middle" font-weight="normal" fill="#111" stroke="#111" stroke-width="0.2" >ns</text>
<path d="M137.40,670.60 V667.40 H160.70 V670.60" fill="none" stroke="#333" stroke-width="0.9" />
<line x1="149.20" y1="667.40" x2="149.20" y2="670.60" stroke="#333" stroke-width="0.9" />
<path d="M149.2,667.4 V637.4 H166.3 V712.0" fill="none" stroke="#333" stroke-width="0.9" />
<path d="M166.3,653.5 H177.1 V682.2" fill="none" stroke="#333" stroke-width="0.9" />
<polygon points="152.90,632.10 153.56,633.54 155.13,633.72 153.97,634.80 154.28,636.35 152.90,635.58 151.52,636.35 151.83,634.80 150.67,633.72 152.24,633.54" fill="#222"/>
<polygon points="157.00,632.10 157.66,633.54 159.23,633.72 158.07,634.80 158.38,636.35 157.00,635.58 155.62,636.35 155.93,634.80 154.77,633.72 156.34,633.54" fill="#222"/>
<polygon points="161.10,632.10 161.76,633.54 163.33,633.72 162.17,634.80 162.48,636.35 161.10,635.58 159.72,636.35 160.03,634.80 158.87,633.72 160.44,633.54" fill="#222"/>
<polygon points="169.75,649.80 170.41,651.24 171.98,651.42 170.82,652.50 171.13,654.05 169.75,653.28 168.37,654.05 168.68,652.50 167.52,651.42 169.09,651.24" fill="#222"/>
<polygon points="173.85,649.80 174.51,651.24 176.08,651.42 174.92,652.50 175.23,654.05 173.85,653.28 172.47,654.05 172.78,652.50 171.62,651.42 173.19,651.24" fill="#222"/>
<line x1="116.50" y1="619.20" x2="172.50" y2="619.20" stroke="#999" stroke-width="1.2" />
<path d="M144.3,619.2 V605.2 H186.5 V615.2" fill="none" stroke="#333" stroke-width="0.9" />
<polygon points="160.25,600.80 160.91,602.24 162.48,602.42 161.32,603.50 161.63,605.05 160.25,604.28 158.87,605.05 159.18,603.50 158.02,602.42 159.59,602.24" fill="#222"/>
<polygon points="164.35,600.80 165.01,602.24 166.58,602.42 165.42,603.50 165.73,605.05 164.35,604.28 162.97,605.05 163.28,603.50 162.12,602.42 163.69,602.24" fill="#222"/>
<polygon points="168.45,600.80 169.11,602.24 170.68,602.42 169.52,603.50 169.83,605.05 168.45,604.28 167.07,605.05 167.38,603.50 166.22,602.42 167.79,602.24" fill="#222"/>
<polygon points="172.55,600.80 173.21,602.24 174.78,602.42 173.62,603.50 173.93,605.05 172.55,604.28 171.17,605.05 171.48,603.50 170.32,602.42 171.89,602.24" fill="#222"/>
<text x="242.00" y="616.50" font-size="11" text-anchor="start" font-weight="bold" fill="#111"  >E</text>
<line x1="290.90" y1="623.10" x2="290.90" y2="747.20" stroke="#222" stroke-width="1.2" />
<line x1="290.30" y1="746.60" x2="373.10" y2="746.60" stroke="#222" stroke-width="1.2" />
<line x1="287.10" y1="746.60" x2="290.90" y2="746.60" stroke="#222" stroke-width="1.1" />
<text x="284.70" y="750.30" font-size="10.4" text-anchor="end" font-weight="normal" fill="#111" stroke="#111" stroke-width="0.2" >0</text>
<line x1="287.10" y1="730.34" x2="290.90" y2="730.34" stroke="#222" stroke-width="1.1" />
<text x="284.70" y="734.04" font-size="10.4" text-anchor="end" font-weight="normal" fill="#111" stroke="#111" stroke-width="0.2" >2</text>
<line x1="287.10" y1="714.08" x2="290.90" y2="714.08" stroke="#222" stroke-width="1.1" />
<text x="284.70" y="717.78" font-size="10.4" text-anchor="end" font-weight="normal" fill="#111" stroke="#111" stroke-width="0.2" >4</text>
<line x1="287.10" y1="697.82" x2="290.90" y2="697.82" stroke="#222" stroke-width="1.1" />
<text x="284.70" y="701.52" font-size="10.4" text-anchor="end" font-weight="normal" fill="#111" stroke="#111" stroke-width="0.2" >6</text>
<line x1="287.10" y1="681.56" x2="290.90" y2="681.56" stroke="#222" stroke-width="1.1" />
<text x="284.70" y="685.26" font-size="10.4" text-anchor="end" font-weight="normal" fill="#111" stroke="#111" stroke-width="0.2" >8</text>
<line x1="287.10" y1="665.30" x2="290.90" y2="665.30" stroke="#222" stroke-width="1.1" />
<text x="284.70" y="669.00" font-size="10.4" text-anchor="end" font-weight="normal" fill="#111" stroke="#111" stroke-width="0.2" >10</text>
<line x1="287.10" y1="649.04" x2="290.90" y2="649.04" stroke="#222" stroke-width="1.1" />
<text x="284.70" y="652.74" font-size="10.4" text-anchor="end" font-weight="normal" fill="#111" stroke="#111" stroke-width="0.2" >12</text>
<line x1="287.10" y1="632.78" x2="290.90" y2="632.78" stroke="#222" stroke-width="1.1" />
<text x="284.70" y="636.48" font-size="10.4" text-anchor="end" font-weight="normal" fill="#111" stroke="#111" stroke-width="0.2" >14</text>
<text x="0" y="0" font-size="11.8" text-anchor="middle" fill="#111" transform="translate(268.4,689.5) rotate(-90)">Sequential killing (#)</text>
<path d="M293.6,740.6 Q293.6,736.3 296.5,736.3 Q299.4,736.3 299.4,740.6 Z" fill="#111" stroke="#111" stroke-width="0.6" />
<rect x="303.30" y="736.80" width="6.20" height="3.80" rx="0" fill="#c8c8c8" stroke="#a8a8a8" stroke-width="0.9" />
<line x1="316.30" y1="681.00" x2="316.30" y2="688.50" stroke="#f0509c" stroke-width="0.9" />
<line x1="316.30" y1="699.50" x2="316.30" y2="705.80" stroke="#f0509c" stroke-width="0.9" />
<rect x="312.90" y="688.50" width="6.80" height="11.00" rx="0" fill="#fbc8e0" stroke="#f0509c" stroke-width="1.0" />
<line x1="312.90" y1="694.00" x2="319.70" y2="694.00" stroke="#f0509c" stroke-width="1.0" />
<circle cx="316.30" cy="681.00" r="1.9" fill="#fde0ee" stroke="#f0509c" stroke-width="0.9" />
<circle cx="316.30" cy="689.00" r="1.9" fill="#fde0ee" stroke="#f0509c" stroke-width="0.9" />
<circle cx="316.30" cy="694.00" r="1.9" fill="#fde0ee" stroke="#f0509c" stroke-width="0.9" />
<circle cx="316.30" cy="699.00" r="1.9" fill="#fde0ee" stroke="#f0509c" stroke-width="0.9" />
<circle cx="316.30" cy="705.80" r="1.9" fill="#fde0ee" stroke="#f0509c" stroke-width="0.9" />
<line x1="326.60" y1="697.70" x2="326.60" y2="704.40" stroke="#d8326e" stroke-width="0.9" />
<line x1="326.60" y1="715.40" x2="326.60" y2="715.40" stroke="#d8326e" stroke-width="0.9" />
<rect x="323.20" y="704.40" width="6.80" height="11.00" rx="0" fill="#fbe4ec" stroke="#d8326e" stroke-width="1.0" />
<line x1="323.20" y1="709.80" x2="330.00" y2="709.80" stroke="#d8326e" stroke-width="1.0" />
<circle cx="326.60" cy="697.70" r="1.9" fill="#dc3c76" stroke="#c82a62" stroke-width="0.9" />
<circle cx="326.60" cy="705.50" r="1.9" fill="#dc3c76" stroke="#c82a62" stroke-width="0.9" />
<circle cx="326.60" cy="714.00" r="1.9" fill="#dc3c76" stroke="#c82a62" stroke-width="0.9" />
<line x1="337.20" y1="688.50" x2="337.20" y2="689.00" stroke="#4a6ef0" stroke-width="0.9" />
<line x1="337.20" y1="707.30" x2="337.20" y2="714.30" stroke="#4a6ef0" stroke-width="0.9" />
<rect x="333.80" y="689.00" width="6.80" height="18.30" rx="0" fill="#d6e2fb" stroke="#4a6ef0" stroke-width="1.0" />
<line x1="333.80" y1="698.00" x2="340.60" y2="698.00" stroke="#4a6ef0" stroke-width="1.0" />
<circle cx="337.20" cy="689.50" r="1.9" fill="#ffffff" stroke="#4a6ef0" stroke-width="0.9" />
<circle cx="337.20" cy="697.00" r="1.9" fill="#ffffff" stroke="#4a6ef0" stroke-width="0.9" />
<circle cx="337.20" cy="706.00" r="1.9" fill="#ffffff" stroke="#4a6ef0" stroke-width="0.9" />
<circle cx="337.20" cy="714.30" r="1.9" fill="#ffffff" stroke="#4a6ef0" stroke-width="0.9" />
<line x1="346.50" y1="730.60" x2="346.50" y2="738.40" stroke="#f8aa66" stroke-width="0.9" />
<rect x="343.30" y="728.80" width="6.40" height="3.60" rx="1.8" fill="#fde6d2" stroke="#f8aa66" stroke-width="0.9" />
<circle cx="346.50" cy="738.40" r="1.9" fill="#fff" stroke="#f8aa66" stroke-width="0.9" />
<line x1="357.20" y1="697.20" x2="357.20" y2="697.20" stroke="#ee6e1e" stroke-width="0.9" />
<line x1="357.20" y1="714.80" x2="357.20" y2="714.80" stroke="#ee6e1e" stroke-width="0.9" />
<rect x="353.80" y="697.20" width="6.80" height="17.60" rx="0" fill="#fde6d6" stroke="#ee6e1e" stroke-width="1.0" />
<circle cx="357.20" cy="697.80" r="1.9" fill="#f06a14" stroke="#e05e0c" stroke-width="0.9" />
<circle cx="357.20" cy="713.80" r="1.9" fill="#f06a14" stroke="#e05e0c" stroke-width="0.9" />
<circle cx="357.20" cy="705.80" r="2.0" fill="#f06a14" stroke="#e05e0c" stroke-width="0.8" />
<line x1="367.30" y1="640.40" x2="367.30" y2="648.50" stroke="#b948ee" stroke-width="0.9" />
<line x1="367.30" y1="666.90" x2="367.30" y2="666.90" stroke="#b948ee" stroke-width="0.9" />
<rect x="363.90" y="648.50" width="6.80" height="18.40" rx="0" fill="#d688f6" stroke="#b948ee" stroke-width="1.0" />
<line x1="363.90" y1="657.50" x2="370.70" y2="657.50" stroke="#b948ee" stroke-width="1.0" />
<circle cx="367.30" cy="640.40" r="1.9" fill="#e8b8fb" stroke="#b845ee" stroke-width="0.9" />
<circle cx="367.30" cy="649.00" r="1.9" fill="#e8b8fb" stroke="#b845ee" stroke-width="0.9" />
<circle cx="367.30" cy="657.50" r="1.9" fill="#e8b8fb" stroke="#b845ee" stroke-width="0.9" />
<circle cx="367.30" cy="665.50" r="1.9" fill="#e8b8fb" stroke="#b845ee" stroke-width="0.9" />
<path d="M294.60,733.80 V730.50 H307.80 V733.80" fill="none" stroke="#333" stroke-width="0.9" />
<text x="301.20" y="729.20" font-size="9.8" text-anchor="middle" font-weight="normal" fill="#111" stroke="#111" stroke-width="0.2" >ns</text>
<path d="M317.70,676.50 V673.20 H328.10 V676.50" fill="none" stroke="#333" stroke-width="0.9" />
<polygon points="320.85,666.40 321.51,667.84 323.08,668.02 321.92,669.10 322.23,670.65 320.85,669.88 319.47,670.65 319.78,669.10 318.62,668.02 320.19,667.84" fill="#222"/>
<polygon points="324.95,666.40 325.61,667.84 327.18,668.02 326.02,669.10 326.33,670.65 324.95,669.88 323.57,670.65 323.88,669.10 322.72,668.02 324.29,667.84" fill="#222"/>
<path d="M318.20,662.80 V659.50 H358.10 V662.80" fill="none" stroke="#333" stroke-width="0.9" />
<polygon points="337.80,652.80 338.46,654.24 340.03,654.42 338.87,655.50 339.18,657.05 337.80,656.28 336.42,657.05 336.73,655.50 335.57,654.42 337.14,654.24" fill="#222"/>
<line x1="302.20" y1="632.80" x2="352.80" y2="632.80" stroke="#222" stroke-width="1.1" />
<path d="M327.4,632.8 V620.1 H366.2 V634.6" fill="none" stroke="#333" stroke-width="0.9" />
<polygon points="340.65,613.60 341.31,615.04 342.88,615.22 341.72,616.30 342.03,617.85 340.65,617.08 339.27,617.85 339.58,616.30 338.42,615.22 339.99,615.04" fill="#222"/>
<polygon points="344.75,613.60 345.41,615.04 346.98,615.22 345.82,616.30 346.13,617.85 344.75,617.08 343.37,617.85 343.68,616.30 342.52,615.22 344.09,615.04" fill="#222"/>
<polygon points="348.85,613.60 349.51,615.04 351.08,615.22 349.92,616.30 350.23,617.85 348.85,617.08 347.47,617.85 347.78,616.30 346.62,615.22 348.19,615.04" fill="#222"/>
<polygon points="352.95,613.60 353.61,615.04 355.18,615.22 354.02,616.30 354.33,617.85 352.95,617.08 351.57,617.85 351.88,616.30 350.72,615.22 352.29,615.04" fill="#222"/>
<path d="M312.5,717.3 V720.2 H338.5 V717.3" fill="none" stroke="#333" stroke-width="0.9" />
<path d="M327.5,720.2 V725.2 H347.7 V722.5" fill="none" stroke="#333" stroke-width="0.9" />
<polygon points="332.35,721.60 333.01,723.04 334.58,723.22 333.42,724.30 333.73,725.85 332.35,725.08 330.97,725.85 331.28,724.30 330.12,723.22 331.69,723.04" fill="#222"/>
<polygon points="336.45,721.60 337.11,723.04 338.68,723.22 337.52,724.30 337.83,725.85 336.45,725.08 335.07,725.85 335.38,724.30 334.22,723.22 335.79,723.04" fill="#222"/>
<polygon points="340.55,721.60 341.21,723.04 342.78,723.22 341.62,724.30 341.93,725.85 340.55,725.08 339.17,725.85 339.48,724.30 338.32,723.22 339.89,723.04" fill="#222"/>
<polygon points="344.65,721.60 345.31,723.04 346.88,723.22 345.72,724.30 346.03,725.85 344.65,725.08 343.27,725.85 343.58,724.30 342.42,723.22 343.99,723.04" fill="#222"/>
<rect x="394.00" y="616.60" width="4.40" height="4.40" rx="0" fill="#ffffff" stroke="#8a8a8a" stroke-width="0.9" />
<text x="413.70" y="622.60" font-size="10.6" text-anchor="start" font-weight="normal" fill="#111" stroke="#111" stroke-width="0.2" >NT</text>
<rect x="394.00" y="632.80" width="4.40" height="4.40" rx="0" fill="#c8c8c8" stroke="#aaaaaa" stroke-width="0.9" />
<text x="413.70" y="638.80" font-size="10.6" text-anchor="start" font-weight="normal" fill="#111" stroke="#111" stroke-width="0.2" >Ctrl</text>
<rect x="394.00" y="649.00" width="4.40" height="4.40" rx="0" fill="#f9cde0" stroke="#f5a0c4" stroke-width="0.9" />
<text x="413.70" y="655.00" font-size="10.6" text-anchor="start" font-weight="normal" fill="#111" stroke="#111" stroke-width="0.2" >28.<tspan font-style="italic">mζ</tspan></text>
<rect x="394.00" y="665.70" width="4.40" height="4.40" rx="0" fill="#e6789c" stroke="#dc5c88" stroke-width="0.9" />
<text x="413.70" y="671.70" font-size="10.6" text-anchor="start" font-weight="normal" fill="#111" stroke="#111" stroke-width="0.2" >28.<tspan font-style="italic">ζ</tspan></text>
<rect x="394.00" y="682.10" width="4.40" height="4.40" rx="0" fill="#dfe8fd" stroke="#6f8ff2" stroke-width="0.9" />
<text x="413.70" y="688.10" font-size="10.6" text-anchor="start" font-weight="normal" fill="#111" stroke="#111" stroke-width="0.2" >BB.<tspan font-style="italic">mζ</tspan></text>
<rect x="394.00" y="697.40" width="4.40" height="4.40" rx="0" fill="#fde3cc" stroke="#f8c090" stroke-width="0.9" />
<text x="413.70" y="706.30" font-size="10.6" text-anchor="start" font-weight="normal" fill="#111" stroke="#111" stroke-width="0.2" ><tspan font-size="7.5" dy="-5">CD8tm</tspan><tspan dy="5">BB.<tspan font-style="italic">mζ</tspan></tspan></text>
<rect x="394.00" y="716.30" width="4.40" height="4.40" rx="0" fill="#f07a2a" stroke="#ec6a18" stroke-width="0.9" />
<text x="413.70" y="725.00" font-size="10.6" text-anchor="start" font-weight="normal" fill="#111" stroke="#111" stroke-width="0.2" ><tspan font-size="7.5" dy="-5">CD8tm</tspan><tspan dy="5">BB.<tspan font-style="italic">ζ</tspan></tspan></text>
<rect x="394.00" y="736.50" width="4.40" height="4.40" rx="0" fill="#dea0f8" stroke="#cf80f4" stroke-width="0.9" />
<text x="413.70" y="742.50" font-size="10.6" text-anchor="start" font-weight="normal" fill="#111" stroke="#111" stroke-width="0.2" >BBL- 28.<tspan font-style="italic">mζ</tspan></text>
</svg></body></html>
